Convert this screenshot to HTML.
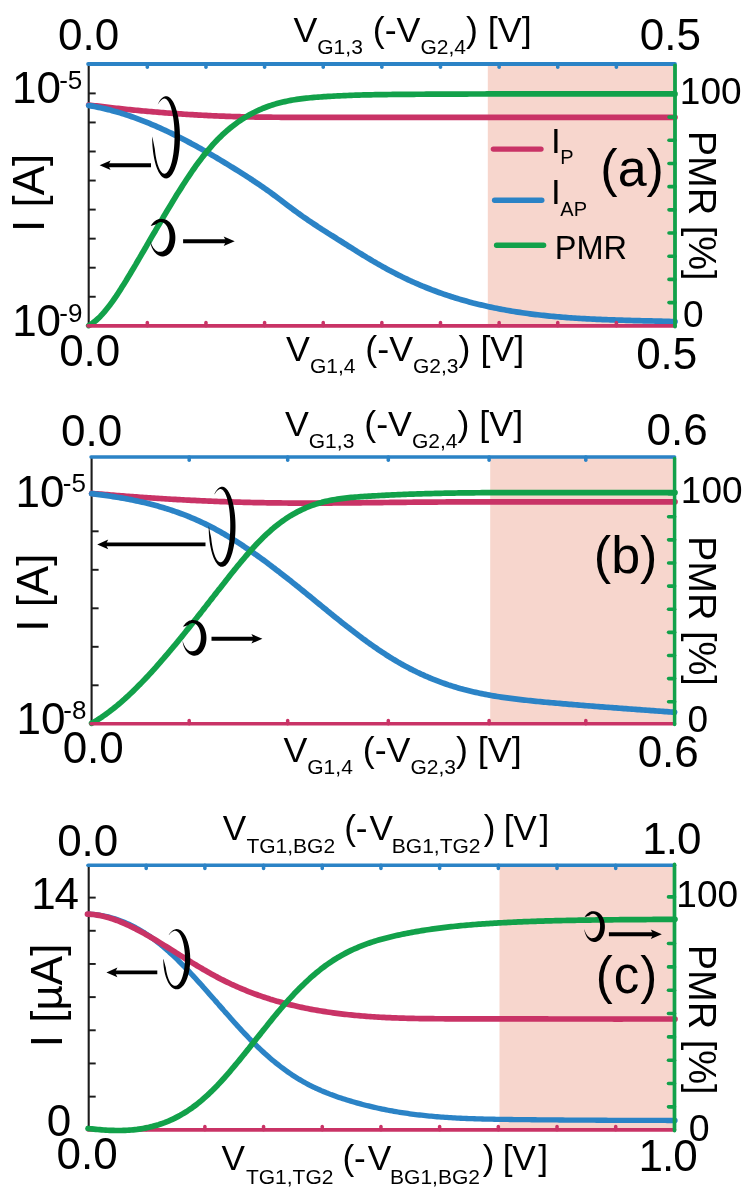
<!DOCTYPE html>
<html><head><meta charset="utf-8"><title>PMR figure</title>
<style>
html,body{margin:0;padding:0;background:#fff;}
svg{display:block;will-change:transform;}
text{font-family:"Liberation Sans",sans-serif;fill:#000;}
</style></head>
<body>
<svg width="747" height="1199" viewBox="0 0 747 1199">
<rect width="747" height="1199" fill="#fff"/>
<rect x="487.80" y="64.00" width="187.20" height="261.80" fill="#f7d6cd"/>
<line x1="88.70" y1="64.00" x2="88.70" y2="327.00" stroke="#1c1c1c" stroke-width="2.1" stroke-linecap="butt"/>
<line x1="88.70" y1="296.75" x2="95.70" y2="296.75" stroke="#1c1c1c" stroke-width="1.95" stroke-linecap="butt"/>
<line x1="88.70" y1="267.70" x2="95.70" y2="267.70" stroke="#1c1c1c" stroke-width="1.95" stroke-linecap="butt"/>
<line x1="88.70" y1="238.65" x2="95.70" y2="238.65" stroke="#1c1c1c" stroke-width="1.95" stroke-linecap="butt"/>
<line x1="88.70" y1="209.60" x2="95.70" y2="209.60" stroke="#1c1c1c" stroke-width="1.95" stroke-linecap="butt"/>
<line x1="88.70" y1="180.55" x2="95.70" y2="180.55" stroke="#1c1c1c" stroke-width="1.95" stroke-linecap="butt"/>
<line x1="88.70" y1="151.50" x2="95.70" y2="151.50" stroke="#1c1c1c" stroke-width="1.95" stroke-linecap="butt"/>
<line x1="88.70" y1="122.45" x2="95.70" y2="122.45" stroke="#1c1c1c" stroke-width="1.95" stroke-linecap="butt"/>
<line x1="88.70" y1="93.40" x2="95.70" y2="93.40" stroke="#1c1c1c" stroke-width="1.95" stroke-linecap="butt"/>
<path d="M88.7,104.97 L90.7,105.22 L92.6,105.46 L94.6,105.71 L96.5,105.95 L98.5,106.18 L100.5,106.42 L102.4,106.65 L104.4,106.88 L106.3,107.11 L108.3,107.34 L110.3,107.56 L112.2,107.78 L114.2,108.00 L116.2,108.21 L118.1,108.43 L120.1,108.64 L122.0,108.85 L124.0,109.05 L126.0,109.26 L127.9,109.46 L129.9,109.66 L131.8,109.86 L133.8,110.05 L135.8,110.24 L137.7,110.43 L139.7,110.62 L141.6,110.80 L143.6,110.99 L145.6,111.16 L147.5,111.34 L149.5,111.52 L151.4,111.69 L153.4,111.86 L155.4,112.02 L157.3,112.19 L159.3,112.35 L161.3,112.51 L163.2,112.67 L165.2,112.82 L167.1,112.97 L169.1,113.12 L171.1,113.27 L173.0,113.41 L175.0,113.55 L176.9,113.69 L178.9,113.83 L180.9,113.96 L182.8,114.09 L184.8,114.22 L186.7,114.35 L188.7,114.47 L190.7,114.59 L192.6,114.71 L194.6,114.82 L196.5,114.93 L198.5,115.04 L200.5,115.15 L202.4,115.26 L204.4,115.36 L206.4,115.46 L208.3,115.55 L210.3,115.65 L212.2,115.74 L214.2,115.83 L216.2,115.91 L218.1,115.99 L220.1,116.07 L222.0,116.15 L224.0,116.22 L226.0,116.30 L227.9,116.37 L229.9,116.43 L231.8,116.50 L233.8,116.56 L235.8,116.61 L237.7,116.67 L239.7,116.72 L241.6,116.77 L243.6,116.82 L245.6,116.86 L247.5,116.90 L249.5,116.94 L251.5,116.98 L253.4,117.01 L255.4,117.04 L257.3,117.07 L259.3,117.10 L261.3,117.12 L263.2,117.15 L265.2,117.17 L267.1,117.19 L269.1,117.21 L271.1,117.22 L273.0,117.24 L275.0,117.25 L276.9,117.26 L278.9,117.27 L280.9,117.28 L282.8,117.29 L284.8,117.30 L286.7,117.31 L288.7,117.31 L290.7,117.32 L292.6,117.32 L294.6,117.32 L296.6,117.33 L298.5,117.33 L300.5,117.33 L302.4,117.33 L304.4,117.34 L306.4,117.34 L308.3,117.34 L310.3,117.34 L312.2,117.34 L314.2,117.34 L316.2,117.34 L318.1,117.34 L320.1,117.34 L322.0,117.34 L324.0,117.34 L326.0,117.34 L327.9,117.34 L329.9,117.34 L331.8,117.34 L333.8,117.34 L335.8,117.34 L337.7,117.34 L339.7,117.34 L341.7,117.34 L343.6,117.34 L345.6,117.34 L347.5,117.34 L349.5,117.34 L351.5,117.34 L353.4,117.34 L355.4,117.34 L357.3,117.34 L359.3,117.33 L361.3,117.33 L363.2,117.33 L365.2,117.33 L367.1,117.33 L369.1,117.33 L371.1,117.33 L373.0,117.32 L375.0,117.32 L376.9,117.32 L378.9,117.32 L380.9,117.32 L382.8,117.32 L384.8,117.32 L386.8,117.31 L388.7,117.31 L390.7,117.31 L392.6,117.31 L394.6,117.31 L396.6,117.31 L398.5,117.31 L400.5,117.30 L402.4,117.30 L404.4,117.30 L406.4,117.30 L408.3,117.30 L410.3,117.30 L412.2,117.29 L414.2,117.29 L416.2,117.29 L418.1,117.29 L420.1,117.29 L422.0,117.29 L424.0,117.29 L426.0,117.29 L427.9,117.29 L429.9,117.28 L431.9,117.28 L433.8,117.28 L435.8,117.28 L437.7,117.28 L439.7,117.28 L441.7,117.28 L443.6,117.28 L445.6,117.28 L447.5,117.28 L449.5,117.28 L451.5,117.28 L453.4,117.28 L455.4,117.28 L457.3,117.28 L459.3,117.28 L461.3,117.28 L463.2,117.28 L465.2,117.28 L467.1,117.28 L469.1,117.28 L471.1,117.28 L473.0,117.28 L475.0,117.28 L477.0,117.28 L478.9,117.28 L480.9,117.28 L482.8,117.28 L484.8,117.28 L486.8,117.28 L488.7,117.28 L490.7,117.28 L492.6,117.28 L494.6,117.28 L496.6,117.28 L498.5,117.28 L500.5,117.28 L502.4,117.28 L504.4,117.28 L506.4,117.29 L508.3,117.29 L510.3,117.29 L512.2,117.29 L514.2,117.29 L516.2,117.29 L518.1,117.29 L520.1,117.29 L522.1,117.29 L524.0,117.29 L526.0,117.29 L527.9,117.29 L529.9,117.29 L531.9,117.29 L533.8,117.30 L535.8,117.30 L537.7,117.30 L539.7,117.30 L541.7,117.30 L543.6,117.30 L545.6,117.30 L547.5,117.30 L549.5,117.30 L551.5,117.30 L553.4,117.30 L555.4,117.30 L557.3,117.30 L559.3,117.30 L561.3,117.31 L563.2,117.31 L565.2,117.31 L567.2,117.31 L569.1,117.31 L571.1,117.31 L573.0,117.31 L575.0,117.31 L577.0,117.31 L578.9,117.31 L580.9,117.31 L582.8,117.31 L584.8,117.31 L586.8,117.31 L588.7,117.31 L590.7,117.31 L592.6,117.31 L594.6,117.31 L596.6,117.31 L598.5,117.31 L600.5,117.32 L602.4,117.32 L604.4,117.32 L606.4,117.32 L608.3,117.32 L610.3,117.32 L612.3,117.32 L614.2,117.32 L616.2,117.32 L618.1,117.32 L620.1,117.31 L622.1,117.31 L624.0,117.31 L626.0,117.31 L627.9,117.31 L629.9,117.31 L631.9,117.31 L633.8,117.31 L635.8,117.31 L637.7,117.31 L639.7,117.31 L641.7,117.31 L643.6,117.31 L645.6,117.31 L647.5,117.31 L649.5,117.31 L651.5,117.30 L653.4,117.30 L655.4,117.30 L657.4,117.30 L659.3,117.30 L661.3,117.30 L663.2,117.30 L665.2,117.29 L667.2,117.29 L669.1,117.29 L671.1,117.29 L673.0,117.29 L675.0,117.29" fill="none" stroke="#c93366" stroke-width="5.7" stroke-linecap="round" stroke-linejoin="round"/>
<path d="M88.7,105.51 L90.7,105.84 L92.6,106.18 L94.6,106.55 L96.5,106.94 L98.5,107.34 L100.5,107.76 L102.4,108.19 L104.4,108.65 L106.3,109.12 L108.3,109.61 L110.3,110.11 L112.2,110.64 L114.2,111.17 L116.2,111.73 L118.1,112.30 L120.1,112.89 L122.0,113.49 L124.0,114.11 L126.0,114.74 L127.9,115.39 L129.9,116.05 L131.8,116.73 L133.8,117.42 L135.8,118.13 L137.7,118.85 L139.7,119.59 L141.6,120.34 L143.6,121.10 L145.6,121.88 L147.5,122.67 L149.5,123.48 L151.4,124.30 L153.4,125.13 L155.4,125.97 L157.3,126.83 L159.3,127.69 L161.3,128.58 L163.2,129.47 L165.2,130.37 L167.1,131.29 L169.1,132.22 L171.1,133.16 L173.0,134.11 L175.0,135.07 L176.9,136.05 L178.9,137.03 L180.9,138.03 L182.8,139.03 L184.8,140.05 L186.7,141.07 L188.7,142.11 L190.7,143.15 L192.6,144.21 L194.6,145.27 L196.5,146.34 L198.5,147.43 L200.5,148.52 L202.4,149.62 L204.4,150.73 L206.4,151.84 L208.3,152.97 L210.3,154.10 L212.2,155.24 L214.2,156.39 L216.2,157.55 L218.1,158.71 L220.1,159.88 L222.0,161.06 L224.0,162.24 L226.0,163.43 L227.9,164.63 L229.9,165.84 L231.8,167.05 L233.8,168.26 L235.8,169.49 L237.7,170.71 L239.7,171.95 L241.6,173.18 L243.6,174.43 L245.6,175.68 L247.5,176.94 L249.5,178.20 L251.5,179.48 L253.4,180.77 L255.4,182.06 L257.3,183.37 L259.3,184.69 L261.3,186.03 L263.2,187.38 L265.2,188.75 L267.1,190.13 L269.1,191.53 L271.1,192.94 L273.0,194.38 L275.0,195.83 L276.9,197.29 L278.9,198.76 L280.9,200.24 L282.8,201.72 L284.8,203.21 L286.7,204.69 L288.7,206.18 L290.7,207.65 L292.6,209.12 L294.6,210.58 L296.6,212.02 L298.5,213.45 L300.5,214.86 L302.4,216.26 L304.4,217.63 L306.4,218.98 L308.3,220.32 L310.3,221.64 L312.2,222.94 L314.2,224.24 L316.2,225.52 L318.1,226.79 L320.1,228.06 L322.0,229.31 L324.0,230.56 L326.0,231.81 L327.9,233.06 L329.9,234.30 L331.8,235.54 L333.8,236.78 L335.8,238.03 L337.7,239.27 L339.7,240.52 L341.7,241.76 L343.6,243.00 L345.6,244.24 L347.5,245.48 L349.5,246.71 L351.5,247.94 L353.4,249.17 L355.4,250.39 L357.3,251.61 L359.3,252.82 L361.3,254.02 L363.2,255.22 L365.2,256.41 L367.1,257.60 L369.1,258.77 L371.1,259.94 L373.0,261.10 L375.0,262.25 L376.9,263.38 L378.9,264.51 L380.9,265.63 L382.8,266.73 L384.8,267.82 L386.8,268.90 L388.7,269.97 L390.7,271.02 L392.6,272.05 L394.6,273.08 L396.6,274.08 L398.5,275.08 L400.5,276.05 L402.4,277.02 L404.4,277.97 L406.4,278.90 L408.3,279.82 L410.3,280.73 L412.2,281.62 L414.2,282.50 L416.2,283.36 L418.1,284.21 L420.1,285.05 L422.0,285.87 L424.0,286.68 L426.0,287.48 L427.9,288.26 L429.9,289.03 L431.9,289.79 L433.8,290.53 L435.8,291.27 L437.7,291.99 L439.7,292.69 L441.7,293.39 L443.6,294.07 L445.6,294.74 L447.5,295.40 L449.5,296.05 L451.5,296.68 L453.4,297.31 L455.4,297.92 L457.3,298.52 L459.3,299.11 L461.3,299.69 L463.2,300.25 L465.2,300.81 L467.1,301.36 L469.1,301.89 L471.1,302.41 L473.0,302.93 L475.0,303.43 L477.0,303.93 L478.9,304.41 L480.9,304.88 L482.8,305.35 L484.8,305.80 L486.8,306.24 L488.7,306.68 L490.7,307.10 L492.6,307.52 L494.6,307.92 L496.6,308.32 L498.5,308.71 L500.5,309.09 L502.4,309.46 L504.4,309.82 L506.4,310.18 L508.3,310.52 L510.3,310.86 L512.2,311.19 L514.2,311.51 L516.2,311.82 L518.1,312.13 L520.1,312.43 L522.1,312.72 L524.0,313.00 L526.0,313.28 L527.9,313.54 L529.9,313.81 L531.9,314.06 L533.8,314.31 L535.8,314.55 L537.7,314.78 L539.7,315.01 L541.7,315.23 L543.6,315.44 L545.6,315.65 L547.5,315.86 L549.5,316.05 L551.5,316.24 L553.4,316.43 L555.4,316.61 L557.3,316.78 L559.3,316.95 L561.3,317.11 L563.2,317.27 L565.2,317.43 L567.2,317.57 L569.1,317.72 L571.1,317.86 L573.0,317.99 L575.0,318.12 L577.0,318.25 L578.9,318.37 L580.9,318.49 L582.8,318.60 L584.8,318.71 L586.8,318.81 L588.7,318.92 L590.7,319.02 L592.6,319.11 L594.6,319.20 L596.6,319.29 L598.5,319.38 L600.5,319.46 L602.4,319.54 L604.4,319.62 L606.4,319.69 L608.3,319.77 L610.3,319.84 L612.3,319.90 L614.2,319.97 L616.2,320.03 L618.1,320.10 L620.1,320.16 L622.1,320.21 L624.0,320.27 L626.0,320.33 L627.9,320.38 L629.9,320.43 L631.9,320.49 L633.8,320.54 L635.8,320.59 L637.7,320.64 L639.7,320.69 L641.7,320.73 L643.6,320.78 L645.6,320.83 L647.5,320.88 L649.5,320.93 L651.5,320.97 L653.4,321.02 L655.4,321.07 L657.4,321.12 L659.3,321.17 L661.3,321.22 L663.2,321.27 L665.2,321.32 L667.2,321.37 L669.1,321.43 L671.1,321.48 L673.0,321.54 L675.0,321.59" fill="none" stroke="#2b83c6" stroke-width="5.7" stroke-linecap="round" stroke-linejoin="round"/>
<path d="M88.7,325.63 L90.7,324.48 L92.6,323.15 L94.6,321.65 L96.5,319.99 L98.5,318.17 L100.5,316.21 L102.4,314.11 L104.4,311.87 L106.3,309.52 L108.3,307.04 L110.3,304.46 L112.2,301.77 L114.2,298.99 L116.2,296.12 L118.1,293.18 L120.1,290.16 L122.0,287.08 L124.0,283.94 L126.0,280.75 L127.9,277.53 L129.9,274.26 L131.8,270.98 L133.8,267.67 L135.8,264.35 L137.7,261.01 L139.7,257.66 L141.6,254.30 L143.6,250.94 L145.6,247.57 L147.5,244.19 L149.5,240.81 L151.4,237.44 L153.4,234.06 L155.4,230.70 L157.3,227.34 L159.3,223.99 L161.3,220.65 L163.2,217.32 L165.2,214.01 L167.1,210.72 L169.1,207.44 L171.1,204.19 L173.0,200.97 L175.0,197.76 L176.9,194.59 L178.9,191.45 L180.9,188.34 L182.8,185.27 L184.8,182.23 L186.7,179.24 L188.7,176.29 L190.7,173.38 L192.6,170.53 L194.6,167.73 L196.5,164.98 L198.5,162.29 L200.5,159.66 L202.4,157.10 L204.4,154.60 L206.4,152.17 L208.3,149.82 L210.3,147.53 L212.2,145.31 L214.2,143.16 L216.2,141.08 L218.1,139.06 L220.1,137.11 L222.0,135.22 L224.0,133.40 L226.0,131.63 L227.9,129.93 L229.9,128.28 L231.8,126.69 L233.8,125.16 L235.8,123.68 L237.7,122.26 L239.7,120.90 L241.6,119.58 L243.6,118.32 L245.6,117.10 L247.5,115.94 L249.5,114.82 L251.5,113.75 L253.4,112.73 L255.4,111.74 L257.3,110.81 L259.3,109.91 L261.3,109.06 L263.2,108.24 L265.2,107.47 L267.1,106.73 L269.1,106.03 L271.1,105.37 L273.0,104.73 L275.0,104.14 L276.9,103.57 L278.9,103.04 L280.9,102.53 L282.8,102.06 L284.8,101.61 L286.7,101.18 L288.7,100.79 L290.7,100.42 L292.6,100.07 L294.6,99.74 L296.6,99.43 L298.5,99.15 L300.5,98.88 L302.4,98.63 L304.4,98.39 L306.4,98.17 L308.3,97.97 L310.3,97.78 L312.2,97.60 L314.2,97.43 L316.2,97.27 L318.1,97.12 L320.1,96.98 L322.0,96.84 L324.0,96.71 L326.0,96.58 L327.9,96.46 L329.9,96.34 L331.8,96.23 L333.8,96.12 L335.8,96.02 L337.7,95.92 L339.7,95.82 L341.7,95.73 L343.6,95.64 L345.6,95.56 L347.5,95.48 L349.5,95.41 L351.5,95.33 L353.4,95.26 L355.4,95.20 L357.3,95.14 L359.3,95.08 L361.3,95.02 L363.2,94.97 L365.2,94.92 L367.1,94.87 L369.1,94.83 L371.1,94.78 L373.0,94.75 L375.0,94.71 L376.9,94.67 L378.9,94.64 L380.9,94.61 L382.8,94.58 L384.8,94.55 L386.8,94.53 L388.7,94.50 L390.7,94.48 L392.6,94.46 L394.6,94.44 L396.6,94.42 L398.5,94.40 L400.5,94.39 L402.4,94.37 L404.4,94.35 L406.4,94.34 L408.3,94.33 L410.3,94.31 L412.2,94.30 L414.2,94.29 L416.2,94.27 L418.1,94.26 L420.1,94.25 L422.0,94.24 L424.0,94.23 L426.0,94.22 L427.9,94.20 L429.9,94.19 L431.9,94.18 L433.8,94.17 L435.8,94.16 L437.7,94.15 L439.7,94.14 L441.7,94.13 L443.6,94.12 L445.6,94.12 L447.5,94.11 L449.5,94.10 L451.5,94.09 L453.4,94.08 L455.4,94.07 L457.3,94.07 L459.3,94.06 L461.3,94.05 L463.2,94.04 L465.2,94.04 L467.1,94.03 L469.1,94.02 L471.1,94.02 L473.0,94.01 L475.0,94.01 L477.0,94.00 L478.9,93.99 L480.9,93.99 L482.8,93.98 L484.8,93.98 L486.8,93.97 L488.7,93.97 L490.7,93.97 L492.6,93.96 L494.6,93.96 L496.6,93.95 L498.5,93.95 L500.5,93.94 L502.4,93.94 L504.4,93.94 L506.4,93.93 L508.3,93.93 L510.3,93.93 L512.2,93.93 L514.2,93.92 L516.2,93.92 L518.1,93.92 L520.1,93.92 L522.1,93.91 L524.0,93.91 L526.0,93.91 L527.9,93.91 L529.9,93.90 L531.9,93.90 L533.8,93.90 L535.8,93.90 L537.7,93.90 L539.7,93.90 L541.7,93.90 L543.6,93.90 L545.6,93.89 L547.5,93.89 L549.5,93.89 L551.5,93.89 L553.4,93.89 L555.4,93.89 L557.3,93.89 L559.3,93.89 L561.3,93.89 L563.2,93.89 L565.2,93.89 L567.2,93.89 L569.1,93.89 L571.1,93.89 L573.0,93.89 L575.0,93.89 L577.0,93.89 L578.9,93.89 L580.9,93.89 L582.8,93.89 L584.8,93.89 L586.8,93.89 L588.7,93.89 L590.7,93.89 L592.6,93.89 L594.6,93.89 L596.6,93.89 L598.5,93.89 L600.5,93.89 L602.4,93.89 L604.4,93.89 L606.4,93.89 L608.3,93.90 L610.3,93.90 L612.3,93.90 L614.2,93.90 L616.2,93.90 L618.1,93.90 L620.1,93.90 L622.1,93.90 L624.0,93.90 L626.0,93.90 L627.9,93.90 L629.9,93.90 L631.9,93.90 L633.8,93.90 L635.8,93.90 L637.7,93.90 L639.7,93.90 L641.7,93.90 L643.6,93.90 L645.6,93.90 L647.5,93.90 L649.5,93.90 L651.5,93.90 L653.4,93.90 L655.4,93.90 L657.4,93.90 L659.3,93.90 L661.3,93.90 L663.2,93.90 L665.2,93.90 L667.2,93.90 L669.1,93.90 L671.1,93.90 L673.0,93.90 L675.0,93.90" fill="none" stroke="#12a14a" stroke-width="5.7" stroke-linecap="round" stroke-linejoin="round"/>
<line x1="88.10" y1="325.80" x2="675.00" y2="325.80" stroke="#c93366" stroke-width="3.8" stroke-linecap="round"/>
<line x1="147.33" y1="325.80" x2="147.33" y2="322.50" stroke="#c93366" stroke-width="3.5" stroke-linecap="round"/>
<line x1="205.96" y1="325.80" x2="205.96" y2="322.50" stroke="#c93366" stroke-width="3.5" stroke-linecap="round"/>
<line x1="264.59" y1="325.80" x2="264.59" y2="322.50" stroke="#c93366" stroke-width="3.5" stroke-linecap="round"/>
<line x1="323.22" y1="325.80" x2="323.22" y2="322.50" stroke="#c93366" stroke-width="3.5" stroke-linecap="round"/>
<line x1="381.85" y1="325.80" x2="381.85" y2="322.50" stroke="#c93366" stroke-width="3.5" stroke-linecap="round"/>
<line x1="440.48" y1="325.80" x2="440.48" y2="322.50" stroke="#c93366" stroke-width="3.5" stroke-linecap="round"/>
<line x1="499.11" y1="325.80" x2="499.11" y2="322.50" stroke="#c93366" stroke-width="3.5" stroke-linecap="round"/>
<line x1="557.74" y1="325.80" x2="557.74" y2="322.50" stroke="#c93366" stroke-width="3.5" stroke-linecap="round"/>
<line x1="616.37" y1="325.80" x2="616.37" y2="322.50" stroke="#c93366" stroke-width="3.5" stroke-linecap="round"/>
<line x1="88.10" y1="64.00" x2="675.00" y2="64.00" stroke="#2b83c6" stroke-width="3.8" stroke-linecap="round"/>
<line x1="147.33" y1="64.00" x2="147.33" y2="67.30" stroke="#2b83c6" stroke-width="3.5" stroke-linecap="round"/>
<line x1="205.96" y1="64.00" x2="205.96" y2="67.30" stroke="#2b83c6" stroke-width="3.5" stroke-linecap="round"/>
<line x1="264.59" y1="64.00" x2="264.59" y2="67.30" stroke="#2b83c6" stroke-width="3.5" stroke-linecap="round"/>
<line x1="323.22" y1="64.00" x2="323.22" y2="67.30" stroke="#2b83c6" stroke-width="3.5" stroke-linecap="round"/>
<line x1="381.85" y1="64.00" x2="381.85" y2="67.30" stroke="#2b83c6" stroke-width="3.5" stroke-linecap="round"/>
<line x1="440.48" y1="64.00" x2="440.48" y2="67.30" stroke="#2b83c6" stroke-width="3.5" stroke-linecap="round"/>
<line x1="499.11" y1="64.00" x2="499.11" y2="67.30" stroke="#2b83c6" stroke-width="3.5" stroke-linecap="round"/>
<line x1="557.74" y1="64.00" x2="557.74" y2="67.30" stroke="#2b83c6" stroke-width="3.5" stroke-linecap="round"/>
<line x1="616.37" y1="64.00" x2="616.37" y2="67.30" stroke="#2b83c6" stroke-width="3.5" stroke-linecap="round"/>
<line x1="675.00" y1="65.50" x2="675.00" y2="326.60" stroke="#12a14a" stroke-width="3.8" stroke-linecap="round"/>
<line x1="675.00" y1="302.61" x2="669.00" y2="302.61" stroke="#12a14a" stroke-width="3.6" stroke-linecap="round"/>
<line x1="675.00" y1="279.42" x2="669.00" y2="279.42" stroke="#12a14a" stroke-width="3.6" stroke-linecap="round"/>
<line x1="675.00" y1="256.23" x2="669.00" y2="256.23" stroke="#12a14a" stroke-width="3.6" stroke-linecap="round"/>
<line x1="675.00" y1="233.04" x2="669.00" y2="233.04" stroke="#12a14a" stroke-width="3.6" stroke-linecap="round"/>
<line x1="675.00" y1="209.85" x2="669.00" y2="209.85" stroke="#12a14a" stroke-width="3.6" stroke-linecap="round"/>
<line x1="675.00" y1="186.66" x2="669.00" y2="186.66" stroke="#12a14a" stroke-width="3.6" stroke-linecap="round"/>
<line x1="675.00" y1="163.47" x2="669.00" y2="163.47" stroke="#12a14a" stroke-width="3.6" stroke-linecap="round"/>
<line x1="675.00" y1="140.28" x2="669.00" y2="140.28" stroke="#12a14a" stroke-width="3.6" stroke-linecap="round"/>
<line x1="675.00" y1="117.09" x2="669.00" y2="117.09" stroke="#12a14a" stroke-width="3.6" stroke-linecap="round"/>
<line x1="675.00" y1="93.90" x2="669.00" y2="93.90" stroke="#12a14a" stroke-width="3.6" stroke-linecap="round"/>
<rect x="490.20" y="456.90" width="184.40" height="266.90" fill="#f7d6cd"/>
<line x1="91.60" y1="456.90" x2="91.60" y2="725.00" stroke="#1c1c1c" stroke-width="2.1" stroke-linecap="butt"/>
<line x1="91.60" y1="685.30" x2="98.60" y2="685.30" stroke="#1c1c1c" stroke-width="1.95" stroke-linecap="butt"/>
<line x1="91.60" y1="646.80" x2="98.60" y2="646.80" stroke="#1c1c1c" stroke-width="1.95" stroke-linecap="butt"/>
<line x1="91.60" y1="608.30" x2="98.60" y2="608.30" stroke="#1c1c1c" stroke-width="1.95" stroke-linecap="butt"/>
<line x1="91.60" y1="569.80" x2="98.60" y2="569.80" stroke="#1c1c1c" stroke-width="1.95" stroke-linecap="butt"/>
<line x1="91.60" y1="531.30" x2="98.60" y2="531.30" stroke="#1c1c1c" stroke-width="1.95" stroke-linecap="butt"/>
<line x1="91.60" y1="492.80" x2="98.60" y2="492.80" stroke="#1c1c1c" stroke-width="1.95" stroke-linecap="butt"/>
<path d="M91.6,493.38 L93.6,493.55 L95.5,493.72 L97.5,493.88 L99.4,494.05 L101.4,494.21 L103.3,494.38 L105.3,494.54 L107.2,494.70 L109.2,494.86 L111.1,495.01 L113.1,495.17 L115.0,495.32 L117.0,495.48 L118.9,495.63 L120.9,495.78 L122.8,495.93 L124.8,496.08 L126.7,496.23 L128.7,496.37 L130.6,496.52 L132.6,496.66 L134.5,496.80 L136.5,496.94 L138.4,497.08 L140.4,497.22 L142.3,497.36 L144.3,497.49 L146.2,497.62 L148.2,497.76 L150.1,497.89 L152.1,498.02 L154.0,498.14 L156.0,498.27 L157.9,498.39 L159.9,498.52 L161.8,498.64 L163.8,498.76 L165.7,498.88 L167.7,499.00 L169.6,499.11 L171.6,499.23 L173.5,499.34 L175.5,499.45 L177.5,499.56 L179.4,499.67 L181.4,499.77 L183.3,499.88 L185.3,499.98 L187.2,500.08 L189.2,500.18 L191.1,500.28 L193.1,500.38 L195.0,500.47 L197.0,500.57 L198.9,500.66 L200.9,500.75 L202.8,500.84 L204.8,500.92 L206.7,501.01 L208.7,501.09 L210.6,501.18 L212.6,501.26 L214.5,501.33 L216.5,501.41 L218.4,501.49 L220.4,501.56 L222.3,501.63 L224.3,501.70 L226.2,501.77 L228.2,501.84 L230.1,501.90 L232.1,501.96 L234.0,502.02 L236.0,502.08 L237.9,502.14 L239.9,502.20 L241.8,502.25 L243.8,502.30 L245.7,502.35 L247.7,502.40 L249.6,502.45 L251.6,502.49 L253.5,502.53 L255.5,502.58 L257.4,502.61 L259.4,502.65 L261.4,502.69 L263.3,502.72 L265.3,502.76 L267.2,502.79 L269.2,502.82 L271.1,502.84 L273.1,502.87 L275.0,502.89 L277.0,502.92 L278.9,502.94 L280.9,502.96 L282.8,502.98 L284.8,503.00 L286.7,503.01 L288.7,503.03 L290.6,503.04 L292.6,503.05 L294.5,503.06 L296.5,503.07 L298.4,503.08 L300.4,503.08 L302.3,503.09 L304.3,503.09 L306.2,503.10 L308.2,503.10 L310.1,503.10 L312.1,503.10 L314.0,503.10 L316.0,503.09 L317.9,503.09 L319.9,503.08 L321.8,503.08 L323.8,503.07 L325.7,503.06 L327.7,503.05 L329.6,503.04 L331.6,503.03 L333.5,503.02 L335.5,503.01 L337.4,502.99 L339.4,502.98 L341.3,502.96 L343.3,502.95 L345.3,502.93 L347.2,502.91 L349.2,502.90 L351.1,502.88 L353.1,502.86 L355.0,502.84 L357.0,502.82 L358.9,502.80 L360.9,502.78 L362.8,502.76 L364.8,502.74 L366.7,502.72 L368.7,502.70 L370.6,502.68 L372.6,502.66 L374.5,502.63 L376.5,502.61 L378.4,502.59 L380.4,502.57 L382.3,502.55 L384.3,502.52 L386.2,502.50 L388.2,502.48 L390.1,502.46 L392.1,502.44 L394.0,502.41 L396.0,502.39 L397.9,502.37 L399.9,502.35 L401.8,502.33 L403.8,502.31 L405.7,502.29 L407.7,502.27 L409.6,502.25 L411.6,502.23 L413.5,502.21 L415.5,502.20 L417.4,502.18 L419.4,502.16 L421.3,502.15 L423.3,502.13 L425.3,502.11 L427.2,502.10 L429.2,502.08 L431.1,502.07 L433.1,502.06 L435.0,502.04 L437.0,502.03 L438.9,502.02 L440.9,502.01 L442.8,502.00 L444.8,501.98 L446.7,501.97 L448.7,501.96 L450.6,501.95 L452.6,501.94 L454.5,501.94 L456.5,501.93 L458.4,501.92 L460.4,501.91 L462.3,501.90 L464.3,501.90 L466.2,501.89 L468.2,501.88 L470.1,501.88 L472.1,501.87 L474.0,501.87 L476.0,501.86 L477.9,501.86 L479.9,501.85 L481.8,501.85 L483.8,501.85 L485.7,501.84 L487.7,501.84 L489.6,501.84 L491.6,501.84 L493.5,501.83 L495.5,501.83 L497.4,501.83 L499.4,501.83 L501.3,501.83 L503.3,501.83 L505.2,501.83 L507.2,501.83 L509.2,501.83 L511.1,501.83 L513.1,501.83 L515.0,501.83 L517.0,501.83 L518.9,501.83 L520.9,501.83 L522.8,501.83 L524.8,501.84 L526.7,501.84 L528.7,501.84 L530.6,501.84 L532.6,501.84 L534.5,501.85 L536.5,501.85 L538.4,501.85 L540.4,501.85 L542.3,501.86 L544.3,501.86 L546.2,501.86 L548.2,501.86 L550.1,501.87 L552.1,501.87 L554.0,501.87 L556.0,501.88 L557.9,501.88 L559.9,501.88 L561.8,501.89 L563.8,501.89 L565.7,501.89 L567.7,501.89 L569.6,501.90 L571.6,501.90 L573.5,501.90 L575.5,501.91 L577.4,501.91 L579.4,501.91 L581.3,501.92 L583.3,501.92 L585.2,501.92 L587.2,501.93 L589.1,501.93 L591.1,501.93 L593.1,501.93 L595.0,501.94 L597.0,501.94 L598.9,501.94 L600.9,501.94 L602.8,501.94 L604.8,501.95 L606.7,501.95 L608.7,501.95 L610.6,501.95 L612.6,501.95 L614.5,501.95 L616.5,501.95 L618.4,501.95 L620.4,501.95 L622.3,501.96 L624.3,501.96 L626.2,501.95 L628.2,501.95 L630.1,501.95 L632.1,501.95 L634.0,501.95 L636.0,501.95 L637.9,501.95 L639.9,501.95 L641.8,501.94 L643.8,501.94 L645.7,501.94 L647.7,501.94 L649.6,501.93 L651.6,501.93 L653.5,501.92 L655.5,501.92 L657.4,501.92 L659.4,501.91 L661.3,501.90 L663.3,501.90 L665.2,501.89 L667.2,501.89 L669.1,501.88 L671.1,501.87 L673.0,501.86 L675.0,501.86" fill="none" stroke="#c93366" stroke-width="5.7" stroke-linecap="round" stroke-linejoin="round"/>
<path d="M91.6,493.63 L93.5,493.87 L95.5,494.11 L97.4,494.36 L99.4,494.61 L101.3,494.87 L103.3,495.13 L105.2,495.40 L107.2,495.68 L109.1,495.97 L111.1,496.26 L113.0,496.56 L115.0,496.87 L116.9,497.19 L118.9,497.51 L120.8,497.84 L122.8,498.18 L124.7,498.53 L126.7,498.89 L128.6,499.26 L130.6,499.64 L132.5,500.03 L134.5,500.43 L136.4,500.84 L138.4,501.26 L140.3,501.69 L142.3,502.13 L144.2,502.58 L146.2,503.05 L148.1,503.53 L150.1,504.02 L152.0,504.52 L154.0,505.03 L155.9,505.56 L157.9,506.10 L159.8,506.66 L161.8,507.22 L163.7,507.81 L165.7,508.40 L167.6,509.01 L169.6,509.64 L171.5,510.28 L173.5,510.93 L175.4,511.60 L177.4,512.29 L179.3,512.99 L181.3,513.71 L183.2,514.44 L185.2,515.19 L187.1,515.96 L189.1,516.74 L191.0,517.55 L193.0,518.37 L194.9,519.20 L196.9,520.06 L198.8,520.93 L200.8,521.83 L202.7,522.74 L204.7,523.67 L206.6,524.62 L208.6,525.59 L210.5,526.58 L212.5,527.59 L214.4,528.61 L216.4,529.66 L218.3,530.73 L220.3,531.82 L222.2,532.93 L224.2,534.05 L226.1,535.20 L228.1,536.36 L230.0,537.54 L232.0,538.73 L233.9,539.94 L235.9,541.17 L237.8,542.42 L239.8,543.68 L241.7,544.95 L243.7,546.24 L245.6,547.55 L247.6,548.87 L249.5,550.20 L251.5,551.55 L253.4,552.91 L255.4,554.28 L257.3,555.67 L259.3,557.07 L261.2,558.48 L263.2,559.90 L265.1,561.33 L267.1,562.77 L269.0,564.23 L271.0,565.69 L272.9,567.17 L274.9,568.65 L276.8,570.14 L278.8,571.64 L280.7,573.15 L282.7,574.67 L284.6,576.19 L286.6,577.73 L288.5,579.27 L290.5,580.81 L292.4,582.36 L294.4,583.92 L296.3,585.49 L298.3,587.06 L300.2,588.63 L302.2,590.21 L304.1,591.79 L306.1,593.38 L308.0,594.97 L310.0,596.56 L311.9,598.15 L313.9,599.75 L315.8,601.34 L317.8,602.94 L319.7,604.53 L321.7,606.13 L323.6,607.72 L325.6,609.31 L327.5,610.90 L329.5,612.49 L331.4,614.07 L333.4,615.65 L335.3,617.22 L337.3,618.79 L339.2,620.35 L341.2,621.91 L343.1,623.46 L345.1,625.00 L347.0,626.53 L349.0,628.06 L350.9,629.57 L352.9,631.08 L354.8,632.58 L356.8,634.07 L358.7,635.54 L360.7,637.01 L362.6,638.46 L364.6,639.90 L366.5,641.32 L368.5,642.73 L370.4,644.13 L372.4,645.51 L374.3,646.88 L376.3,648.23 L378.2,649.57 L380.2,650.88 L382.1,652.18 L384.1,653.47 L386.0,654.73 L388.0,655.97 L389.9,657.20 L391.9,658.40 L393.8,659.59 L395.8,660.75 L397.7,661.89 L399.7,663.02 L401.6,664.12 L403.6,665.20 L405.5,666.26 L407.5,667.30 L409.4,668.33 L411.4,669.33 L413.3,670.32 L415.3,671.28 L417.2,672.23 L419.2,673.15 L421.1,674.06 L423.1,674.95 L425.0,675.82 L427.0,676.67 L428.9,677.51 L430.9,678.32 L432.8,679.12 L434.8,679.90 L436.7,680.66 L438.7,681.41 L440.6,682.13 L442.6,682.84 L444.5,683.53 L446.5,684.21 L448.4,684.87 L450.4,685.51 L452.3,686.13 L454.3,686.74 L456.2,687.33 L458.2,687.90 L460.1,688.46 L462.1,689.00 L464.0,689.53 L466.0,690.04 L467.9,690.54 L469.9,691.02 L471.8,691.49 L473.8,691.95 L475.7,692.39 L477.7,692.82 L479.6,693.23 L481.6,693.64 L483.5,694.03 L485.5,694.41 L487.4,694.78 L489.4,695.14 L491.3,695.49 L493.3,695.82 L495.2,696.15 L497.2,696.47 L499.1,696.77 L501.1,697.07 L503.0,697.36 L505.0,697.64 L506.9,697.92 L508.9,698.18 L510.8,698.44 L512.8,698.69 L514.7,698.94 L516.7,699.18 L518.6,699.41 L520.6,699.64 L522.5,699.86 L524.5,700.08 L526.4,700.29 L528.4,700.50 L530.3,700.70 L532.3,700.90 L534.2,701.10 L536.2,701.29 L538.1,701.48 L540.1,701.67 L542.0,701.85 L544.0,702.04 L545.9,702.22 L547.9,702.40 L549.8,702.58 L551.8,702.76 L553.7,702.94 L555.7,703.11 L557.6,703.28 L559.6,703.46 L561.5,703.63 L563.5,703.79 L565.4,703.96 L567.4,704.13 L569.3,704.29 L571.3,704.46 L573.2,704.62 L575.2,704.78 L577.1,704.94 L579.1,705.10 L581.0,705.26 L583.0,705.41 L584.9,705.57 L586.9,705.72 L588.8,705.88 L590.8,706.03 L592.7,706.18 L594.7,706.34 L596.6,706.49 L598.6,706.64 L600.5,706.79 L602.5,706.93 L604.4,707.08 L606.4,707.23 L608.3,707.38 L610.3,707.52 L612.2,707.67 L614.2,707.81 L616.1,707.96 L618.1,708.10 L620.0,708.25 L622.0,708.39 L623.9,708.54 L625.9,708.68 L627.8,708.82 L629.8,708.97 L631.7,709.11 L633.7,709.25 L635.6,709.39 L637.6,709.54 L639.5,709.68 L641.5,709.82 L643.4,709.97 L645.4,710.11 L647.3,710.25 L649.3,710.40 L651.2,710.54 L653.2,710.69 L655.1,710.83 L657.1,710.98 L659.0,711.12 L661.0,711.27 L662.9,711.42 L664.9,711.56 L666.8,711.71 L668.8,711.86 L670.7,712.01 L672.7,712.16 L674.6,712.31" fill="none" stroke="#2b83c6" stroke-width="5.7" stroke-linecap="round" stroke-linejoin="round"/>
<path d="M91.6,723.36 L93.6,722.24 L95.5,721.09 L97.5,719.89 L99.4,718.64 L101.4,717.36 L103.3,716.03 L105.3,714.66 L107.2,713.25 L109.2,711.81 L111.1,710.32 L113.1,708.80 L115.0,707.23 L117.0,705.63 L118.9,704.00 L120.9,702.33 L122.8,700.63 L124.8,698.89 L126.7,697.12 L128.7,695.32 L130.6,693.48 L132.6,691.62 L134.5,689.72 L136.5,687.80 L138.4,685.84 L140.4,683.86 L142.3,681.85 L144.3,679.82 L146.2,677.76 L148.2,675.68 L150.1,673.57 L152.1,671.43 L154.0,669.28 L156.0,667.10 L157.9,664.90 L159.9,662.68 L161.8,660.44 L163.8,658.19 L165.7,655.91 L167.7,653.61 L169.6,651.30 L171.6,648.98 L173.5,646.63 L175.5,644.28 L177.5,641.90 L179.4,639.52 L181.4,637.12 L183.3,634.71 L185.3,632.29 L187.2,629.86 L189.2,627.42 L191.1,624.97 L193.1,622.51 L195.0,620.05 L197.0,617.58 L198.9,615.10 L200.9,612.62 L202.8,610.13 L204.8,607.64 L206.7,605.14 L208.7,602.65 L210.6,600.15 L212.6,597.65 L214.5,595.15 L216.5,592.65 L218.4,590.15 L220.4,587.66 L222.3,585.17 L224.3,582.68 L226.2,580.20 L228.2,577.73 L230.1,575.27 L232.1,572.82 L234.0,570.39 L236.0,567.98 L237.9,565.59 L239.9,563.22 L241.8,560.87 L243.8,558.55 L245.7,556.26 L247.7,554.00 L249.6,551.77 L251.6,549.58 L253.5,547.43 L255.5,545.31 L257.4,543.24 L259.4,541.21 L261.4,539.22 L263.3,537.29 L265.3,535.40 L267.2,533.57 L269.2,531.79 L271.1,530.06 L273.1,528.39 L275.0,526.78 L277.0,525.22 L278.9,523.71 L280.9,522.25 L282.8,520.84 L284.8,519.49 L286.7,518.18 L288.7,516.92 L290.6,515.71 L292.6,514.55 L294.5,513.44 L296.5,512.37 L298.4,511.35 L300.4,510.37 L302.3,509.44 L304.3,508.55 L306.2,507.70 L308.2,506.90 L310.1,506.14 L312.1,505.42 L314.0,504.73 L316.0,504.09 L317.9,503.48 L319.9,502.91 L321.8,502.37 L323.8,501.86 L325.7,501.39 L327.7,500.94 L329.6,500.53 L331.6,500.14 L333.5,499.77 L335.5,499.44 L337.4,499.12 L339.4,498.83 L341.3,498.56 L343.3,498.31 L345.3,498.07 L347.2,497.85 L349.2,497.65 L351.1,497.46 L353.1,497.29 L355.0,497.13 L357.0,496.97 L358.9,496.83 L360.9,496.69 L362.8,496.56 L364.8,496.43 L366.7,496.31 L368.7,496.19 L370.6,496.07 L372.6,495.95 L374.5,495.84 L376.5,495.73 L378.4,495.62 L380.4,495.52 L382.3,495.41 L384.3,495.31 L386.2,495.21 L388.2,495.12 L390.1,495.02 L392.1,494.93 L394.0,494.84 L396.0,494.75 L397.9,494.67 L399.9,494.58 L401.8,494.50 L403.8,494.42 L405.7,494.35 L407.7,494.27 L409.6,494.20 L411.6,494.13 L413.5,494.06 L415.5,493.99 L417.4,493.93 L419.4,493.87 L421.3,493.80 L423.3,493.74 L425.3,493.69 L427.2,493.63 L429.2,493.58 L431.1,493.53 L433.1,493.48 L435.0,493.43 L437.0,493.38 L438.9,493.34 L440.9,493.29 L442.8,493.25 L444.8,493.21 L446.7,493.17 L448.7,493.14 L450.6,493.10 L452.6,493.07 L454.5,493.03 L456.5,493.00 L458.4,492.97 L460.4,492.95 L462.3,492.92 L464.3,492.89 L466.2,492.87 L468.2,492.85 L470.1,492.83 L472.1,492.81 L474.0,492.79 L476.0,492.77 L477.9,492.75 L479.9,492.74 L481.8,492.72 L483.8,492.71 L485.7,492.70 L487.7,492.69 L489.6,492.68 L491.6,492.67 L493.5,492.66 L495.5,492.65 L497.4,492.64 L499.4,492.63 L501.3,492.63 L503.3,492.62 L505.2,492.62 L507.2,492.61 L509.2,492.61 L511.1,492.61 L513.1,492.61 L515.0,492.60 L517.0,492.60 L518.9,492.60 L520.9,492.60 L522.8,492.60 L524.8,492.60 L526.7,492.60 L528.7,492.60 L530.6,492.60 L532.6,492.60 L534.5,492.60 L536.5,492.60 L538.4,492.60 L540.4,492.60 L542.3,492.60 L544.3,492.60 L546.2,492.60 L548.2,492.60 L550.1,492.60 L552.1,492.60 L554.0,492.60 L556.0,492.60 L557.9,492.60 L559.9,492.60 L561.8,492.60 L563.8,492.60 L565.7,492.60 L567.7,492.60 L569.6,492.60 L571.6,492.60 L573.5,492.60 L575.5,492.60 L577.4,492.60 L579.4,492.60 L581.3,492.60 L583.3,492.60 L585.2,492.60 L587.2,492.60 L589.1,492.60 L591.1,492.60 L593.1,492.60 L595.0,492.60 L597.0,492.60 L598.9,492.60 L600.9,492.60 L602.8,492.60 L604.8,492.60 L606.7,492.60 L608.7,492.60 L610.6,492.60 L612.6,492.60 L614.5,492.60 L616.5,492.60 L618.4,492.60 L620.4,492.60 L622.3,492.60 L624.3,492.60 L626.2,492.60 L628.2,492.60 L630.1,492.60 L632.1,492.60 L634.0,492.60 L636.0,492.60 L637.9,492.60 L639.9,492.60 L641.8,492.60 L643.8,492.60 L645.7,492.60 L647.7,492.60 L649.6,492.60 L651.6,492.60 L653.5,492.60 L655.5,492.60 L657.4,492.60 L659.4,492.60 L661.3,492.60 L663.3,492.60 L665.2,492.60 L667.2,492.60 L669.1,492.60 L671.1,492.60 L673.0,492.60 L675.0,492.60" fill="none" stroke="#12a14a" stroke-width="5.7" stroke-linecap="round" stroke-linejoin="round"/>
<line x1="91.00" y1="723.80" x2="674.60" y2="723.80" stroke="#c93366" stroke-width="3.5" stroke-linecap="round"/>
<line x1="189.20" y1="723.80" x2="189.20" y2="720.50" stroke="#c93366" stroke-width="3.5" stroke-linecap="round"/>
<line x1="287.70" y1="723.80" x2="287.70" y2="720.50" stroke="#c93366" stroke-width="3.5" stroke-linecap="round"/>
<line x1="388.30" y1="723.80" x2="388.30" y2="720.50" stroke="#c93366" stroke-width="3.5" stroke-linecap="round"/>
<line x1="489.10" y1="723.80" x2="489.10" y2="720.50" stroke="#c93366" stroke-width="3.5" stroke-linecap="round"/>
<line x1="585.80" y1="723.80" x2="585.80" y2="720.50" stroke="#c93366" stroke-width="3.5" stroke-linecap="round"/>
<line x1="91.00" y1="456.90" x2="674.60" y2="456.90" stroke="#2b83c6" stroke-width="3.5" stroke-linecap="round"/>
<line x1="189.20" y1="456.90" x2="189.20" y2="460.20" stroke="#2b83c6" stroke-width="3.5" stroke-linecap="round"/>
<line x1="287.70" y1="456.90" x2="287.70" y2="460.20" stroke="#2b83c6" stroke-width="3.5" stroke-linecap="round"/>
<line x1="388.30" y1="456.90" x2="388.30" y2="460.20" stroke="#2b83c6" stroke-width="3.5" stroke-linecap="round"/>
<line x1="489.10" y1="456.90" x2="489.10" y2="460.20" stroke="#2b83c6" stroke-width="3.5" stroke-linecap="round"/>
<line x1="585.80" y1="456.90" x2="585.80" y2="460.20" stroke="#2b83c6" stroke-width="3.5" stroke-linecap="round"/>
<line x1="674.60" y1="458.40" x2="674.60" y2="724.60" stroke="#12a14a" stroke-width="3.5" stroke-linecap="round"/>
<line x1="674.60" y1="701.70" x2="668.60" y2="701.70" stroke="#12a14a" stroke-width="3.6" stroke-linecap="round"/>
<line x1="674.60" y1="678.58" x2="668.60" y2="678.58" stroke="#12a14a" stroke-width="3.6" stroke-linecap="round"/>
<line x1="674.60" y1="655.46" x2="668.60" y2="655.46" stroke="#12a14a" stroke-width="3.6" stroke-linecap="round"/>
<line x1="674.60" y1="632.34" x2="668.60" y2="632.34" stroke="#12a14a" stroke-width="3.6" stroke-linecap="round"/>
<line x1="674.60" y1="609.22" x2="668.60" y2="609.22" stroke="#12a14a" stroke-width="3.6" stroke-linecap="round"/>
<line x1="674.60" y1="586.10" x2="668.60" y2="586.10" stroke="#12a14a" stroke-width="3.6" stroke-linecap="round"/>
<line x1="674.60" y1="562.98" x2="668.60" y2="562.98" stroke="#12a14a" stroke-width="3.6" stroke-linecap="round"/>
<line x1="674.60" y1="539.86" x2="668.60" y2="539.86" stroke="#12a14a" stroke-width="3.6" stroke-linecap="round"/>
<line x1="674.60" y1="516.74" x2="668.60" y2="516.74" stroke="#12a14a" stroke-width="3.6" stroke-linecap="round"/>
<line x1="674.60" y1="493.62" x2="668.60" y2="493.62" stroke="#12a14a" stroke-width="3.6" stroke-linecap="round"/>
<rect x="499.50" y="865.25" width="175.00" height="264.55" fill="#f7d6cd"/>
<line x1="88.70" y1="865.25" x2="88.70" y2="1131.00" stroke="#1c1c1c" stroke-width="2.1" stroke-linecap="butt"/>
<line x1="88.70" y1="1096.63" x2="95.70" y2="1096.63" stroke="#1c1c1c" stroke-width="1.95" stroke-linecap="butt"/>
<line x1="88.70" y1="1063.46" x2="95.70" y2="1063.46" stroke="#1c1c1c" stroke-width="1.95" stroke-linecap="butt"/>
<line x1="88.70" y1="1030.29" x2="95.70" y2="1030.29" stroke="#1c1c1c" stroke-width="1.95" stroke-linecap="butt"/>
<line x1="88.70" y1="997.12" x2="95.70" y2="997.12" stroke="#1c1c1c" stroke-width="1.95" stroke-linecap="butt"/>
<line x1="88.70" y1="963.95" x2="95.70" y2="963.95" stroke="#1c1c1c" stroke-width="1.95" stroke-linecap="butt"/>
<line x1="88.70" y1="930.78" x2="95.70" y2="930.78" stroke="#1c1c1c" stroke-width="1.95" stroke-linecap="butt"/>
<line x1="88.70" y1="897.61" x2="95.70" y2="897.61" stroke="#1c1c1c" stroke-width="1.95" stroke-linecap="butt"/>
<path d="M87.5,914.10 L89.5,914.18 L91.4,914.31 L93.4,914.47 L95.4,914.67 L97.3,914.91 L99.3,915.19 L101.3,915.51 L103.2,915.87 L105.2,916.27 L107.1,916.70 L109.1,917.18 L111.1,917.70 L113.0,918.26 L115.0,918.86 L117.0,919.50 L118.9,920.18 L120.9,920.90 L122.9,921.67 L124.8,922.47 L126.8,923.32 L128.8,924.21 L130.7,925.14 L132.7,926.12 L134.7,927.13 L136.6,928.19 L138.6,929.29 L140.6,930.44 L142.5,931.63 L144.5,932.86 L146.4,934.13 L148.4,935.45 L150.4,936.81 L152.3,938.21 L154.3,939.65 L156.3,941.14 L158.2,942.66 L160.2,944.23 L162.2,945.84 L164.1,947.49 L166.1,949.19 L168.1,950.92 L170.0,952.69 L172.0,954.50 L174.0,956.34 L175.9,958.22 L177.9,960.13 L179.8,962.07 L181.8,964.04 L183.8,966.04 L185.7,968.07 L187.7,970.12 L189.7,972.20 L191.6,974.29 L193.6,976.41 L195.6,978.55 L197.5,980.70 L199.5,982.87 L201.5,985.06 L203.4,987.26 L205.4,989.47 L207.4,991.69 L209.3,993.91 L211.3,996.15 L213.3,998.39 L215.2,1000.63 L217.2,1002.88 L219.1,1005.13 L221.1,1007.37 L223.1,1009.62 L225.0,1011.86 L227.0,1014.09 L229.0,1016.32 L230.9,1018.53 L232.9,1020.74 L234.9,1022.93 L236.8,1025.10 L238.8,1027.26 L240.8,1029.40 L242.7,1031.53 L244.7,1033.62 L246.7,1035.70 L248.6,1037.75 L250.6,1039.77 L252.6,1041.76 L254.5,1043.72 L256.5,1045.65 L258.4,1047.55 L260.4,1049.41 L262.4,1051.25 L264.3,1053.04 L266.3,1054.81 L268.3,1056.54 L270.2,1058.24 L272.2,1059.91 L274.2,1061.54 L276.1,1063.14 L278.1,1064.70 L280.1,1066.23 L282.0,1067.73 L284.0,1069.19 L286.0,1070.62 L287.9,1072.01 L289.9,1073.37 L291.8,1074.70 L293.8,1075.99 L295.8,1077.24 L297.7,1078.46 L299.7,1079.65 L301.7,1080.80 L303.6,1081.92 L305.6,1083.00 L307.6,1084.06 L309.5,1085.08 L311.5,1086.08 L313.5,1087.05 L315.4,1087.98 L317.4,1088.90 L319.4,1089.78 L321.3,1090.64 L323.3,1091.48 L325.3,1092.29 L327.2,1093.08 L329.2,1093.85 L331.1,1094.60 L333.1,1095.33 L335.1,1096.04 L337.0,1096.73 L339.0,1097.40 L341.0,1098.06 L342.9,1098.70 L344.9,1099.33 L346.9,1099.95 L348.8,1100.55 L350.8,1101.14 L352.8,1101.71 L354.7,1102.28 L356.7,1102.84 L358.7,1103.38 L360.6,1103.91 L362.6,1104.44 L364.5,1104.95 L366.5,1105.45 L368.5,1105.94 L370.4,1106.41 L372.4,1106.88 L374.4,1107.34 L376.3,1107.78 L378.3,1108.22 L380.3,1108.64 L382.2,1109.06 L384.2,1109.46 L386.2,1109.85 L388.1,1110.23 L390.1,1110.61 L392.1,1110.97 L394.0,1111.32 L396.0,1111.66 L398.0,1111.99 L399.9,1112.31 L401.9,1112.62 L403.8,1112.92 L405.8,1113.21 L407.8,1113.49 L409.7,1113.77 L411.7,1114.03 L413.7,1114.29 L415.6,1114.54 L417.6,1114.77 L419.6,1115.00 L421.5,1115.23 L423.5,1115.44 L425.5,1115.65 L427.4,1115.85 L429.4,1116.04 L431.4,1116.22 L433.3,1116.40 L435.3,1116.57 L437.2,1116.74 L439.2,1116.89 L441.2,1117.04 L443.1,1117.19 L445.1,1117.33 L447.1,1117.46 L449.0,1117.59 L451.0,1117.71 L453.0,1117.82 L454.9,1117.93 L456.9,1118.04 L458.9,1118.13 L460.8,1118.23 L462.8,1118.32 L464.8,1118.40 L466.7,1118.49 L468.7,1118.56 L470.7,1118.64 L472.6,1118.70 L474.6,1118.77 L476.5,1118.83 L478.5,1118.89 L480.5,1118.94 L482.4,1119.00 L484.4,1119.04 L486.4,1119.09 L488.3,1119.13 L490.3,1119.17 L492.3,1119.21 L494.2,1119.25 L496.2,1119.28 L498.2,1119.32 L500.1,1119.35 L502.1,1119.38 L504.1,1119.41 L506.0,1119.43 L508.0,1119.46 L509.9,1119.48 L511.9,1119.51 L513.9,1119.53 L515.8,1119.56 L517.8,1119.58 L519.8,1119.60 L521.7,1119.63 L523.7,1119.65 L525.7,1119.67 L527.6,1119.69 L529.6,1119.71 L531.6,1119.73 L533.5,1119.75 L535.5,1119.77 L537.5,1119.79 L539.4,1119.81 L541.4,1119.83 L543.4,1119.85 L545.3,1119.87 L547.3,1119.89 L549.2,1119.90 L551.2,1119.92 L553.2,1119.94 L555.1,1119.95 L557.1,1119.97 L559.1,1119.99 L561.0,1120.00 L563.0,1120.02 L565.0,1120.03 L566.9,1120.05 L568.9,1120.06 L570.9,1120.07 L572.8,1120.09 L574.8,1120.10 L576.8,1120.11 L578.7,1120.13 L580.7,1120.14 L582.7,1120.15 L584.6,1120.16 L586.6,1120.17 L588.5,1120.18 L590.5,1120.19 L592.5,1120.21 L594.4,1120.22 L596.4,1120.23 L598.4,1120.24 L600.3,1120.25 L602.3,1120.25 L604.3,1120.26 L606.2,1120.27 L608.2,1120.28 L610.2,1120.29 L612.1,1120.30 L614.1,1120.31 L616.1,1120.31 L618.0,1120.32 L620.0,1120.33 L621.9,1120.34 L623.9,1120.34 L625.9,1120.35 L627.8,1120.36 L629.8,1120.37 L631.8,1120.37 L633.7,1120.38 L635.7,1120.39 L637.7,1120.39 L639.6,1120.40 L641.6,1120.40 L643.6,1120.41 L645.5,1120.42 L647.5,1120.42 L649.5,1120.43 L651.4,1120.43 L653.4,1120.44 L655.4,1120.44 L657.3,1120.45 L659.3,1120.45 L661.2,1120.46 L663.2,1120.47 L665.2,1120.47 L667.1,1120.48 L669.1,1120.48 L671.1,1120.49 L673.0,1120.49 L675.0,1120.50" fill="none" stroke="#2b83c6" stroke-width="5.3" stroke-linecap="round" stroke-linejoin="round"/>
<path d="M87.5,914.06 L89.5,914.16 L91.4,914.31 L93.4,914.51 L95.4,914.76 L97.3,915.06 L99.3,915.41 L101.3,915.80 L103.2,916.24 L105.2,916.72 L107.1,917.25 L109.1,917.81 L111.1,918.42 L113.0,919.07 L115.0,919.75 L117.0,920.47 L118.9,921.22 L120.9,922.01 L122.9,922.83 L124.8,923.68 L126.8,924.56 L128.8,925.47 L130.7,926.40 L132.7,927.37 L134.7,928.35 L136.6,929.37 L138.6,930.40 L140.6,931.45 L142.5,932.53 L144.5,933.62 L146.4,934.73 L148.4,935.86 L150.4,937.00 L152.3,938.15 L154.3,939.32 L156.3,940.50 L158.2,941.68 L160.2,942.88 L162.2,944.08 L164.1,945.29 L166.1,946.51 L168.1,947.73 L170.0,948.95 L172.0,950.18 L174.0,951.40 L175.9,952.63 L177.9,953.86 L179.8,955.09 L181.8,956.32 L183.8,957.54 L185.7,958.76 L187.7,959.98 L189.7,961.19 L191.6,962.40 L193.6,963.60 L195.6,964.79 L197.5,965.97 L199.5,967.14 L201.5,968.30 L203.4,969.46 L205.4,970.60 L207.4,971.72 L209.3,972.83 L211.3,973.93 L213.3,975.01 L215.2,976.08 L217.2,977.13 L219.1,978.16 L221.1,979.17 L223.1,980.16 L225.0,981.14 L227.0,982.10 L229.0,983.04 L230.9,983.97 L232.9,984.88 L234.9,985.77 L236.8,986.64 L238.8,987.50 L240.8,988.34 L242.7,989.17 L244.7,989.98 L246.7,990.78 L248.6,991.56 L250.6,992.32 L252.6,993.07 L254.5,993.80 L256.5,994.52 L258.4,995.23 L260.4,995.92 L262.4,996.59 L264.3,997.25 L266.3,997.90 L268.3,998.54 L270.2,999.16 L272.2,999.76 L274.2,1000.36 L276.1,1000.94 L278.1,1001.50 L280.1,1002.06 L282.0,1002.60 L284.0,1003.13 L286.0,1003.65 L287.9,1004.15 L289.9,1004.65 L291.8,1005.13 L293.8,1005.60 L295.8,1006.06 L297.7,1006.50 L299.7,1006.94 L301.7,1007.37 L303.6,1007.78 L305.6,1008.18 L307.6,1008.58 L309.5,1008.96 L311.5,1009.33 L313.5,1009.70 L315.4,1010.05 L317.4,1010.40 L319.4,1010.73 L321.3,1011.06 L323.3,1011.37 L325.3,1011.68 L327.2,1011.98 L329.2,1012.27 L331.1,1012.55 L333.1,1012.83 L335.1,1013.09 L337.0,1013.35 L339.0,1013.60 L341.0,1013.84 L342.9,1014.08 L344.9,1014.30 L346.9,1014.52 L348.8,1014.73 L350.8,1014.94 L352.8,1015.13 L354.7,1015.33 L356.7,1015.51 L358.7,1015.69 L360.6,1015.86 L362.6,1016.02 L364.5,1016.18 L366.5,1016.33 L368.5,1016.48 L370.4,1016.61 L372.4,1016.75 L374.4,1016.88 L376.3,1017.00 L378.3,1017.12 L380.3,1017.23 L382.2,1017.33 L384.2,1017.44 L386.2,1017.53 L388.1,1017.63 L390.1,1017.71 L392.1,1017.80 L394.0,1017.87 L396.0,1017.95 L398.0,1018.02 L399.9,1018.08 L401.9,1018.15 L403.8,1018.20 L405.8,1018.26 L407.8,1018.31 L409.7,1018.36 L411.7,1018.40 L413.7,1018.44 L415.6,1018.48 L417.6,1018.52 L419.6,1018.55 L421.5,1018.58 L423.5,1018.61 L425.5,1018.63 L427.4,1018.65 L429.4,1018.68 L431.4,1018.69 L433.3,1018.71 L435.3,1018.73 L437.2,1018.74 L439.2,1018.75 L441.2,1018.76 L443.1,1018.77 L445.1,1018.78 L447.1,1018.79 L449.0,1018.79 L451.0,1018.80 L453.0,1018.80 L454.9,1018.81 L456.9,1018.81 L458.9,1018.82 L460.8,1018.82 L462.8,1018.83 L464.8,1018.83 L466.7,1018.83 L468.7,1018.84 L470.7,1018.84 L472.6,1018.85 L474.6,1018.85 L476.5,1018.85 L478.5,1018.86 L480.5,1018.86 L482.4,1018.86 L484.4,1018.87 L486.4,1018.87 L488.3,1018.88 L490.3,1018.88 L492.3,1018.88 L494.2,1018.89 L496.2,1018.89 L498.2,1018.89 L500.1,1018.90 L502.1,1018.90 L504.1,1018.91 L506.0,1018.91 L508.0,1018.91 L509.9,1018.92 L511.9,1018.92 L513.9,1018.92 L515.8,1018.93 L517.8,1018.93 L519.8,1018.93 L521.7,1018.94 L523.7,1018.94 L525.7,1018.94 L527.6,1018.95 L529.6,1018.95 L531.6,1018.95 L533.5,1018.95 L535.5,1018.96 L537.5,1018.96 L539.4,1018.96 L541.4,1018.97 L543.4,1018.97 L545.3,1018.97 L547.3,1018.97 L549.2,1018.98 L551.2,1018.98 L553.2,1018.98 L555.1,1018.98 L557.1,1018.99 L559.1,1018.99 L561.0,1018.99 L563.0,1018.99 L565.0,1019.00 L566.9,1019.00 L568.9,1019.00 L570.9,1019.00 L572.8,1019.00 L574.8,1019.01 L576.8,1019.01 L578.7,1019.01 L580.7,1019.01 L582.7,1019.01 L584.6,1019.01 L586.6,1019.01 L588.5,1019.02 L590.5,1019.02 L592.5,1019.02 L594.4,1019.02 L596.4,1019.02 L598.4,1019.02 L600.3,1019.02 L602.3,1019.02 L604.3,1019.02 L606.2,1019.02 L608.2,1019.02 L610.2,1019.02 L612.1,1019.02 L614.1,1019.03 L616.1,1019.03 L618.0,1019.03 L620.0,1019.03 L621.9,1019.03 L623.9,1019.02 L625.9,1019.02 L627.8,1019.02 L629.8,1019.02 L631.8,1019.02 L633.7,1019.02 L635.7,1019.02 L637.7,1019.02 L639.6,1019.02 L641.6,1019.02 L643.6,1019.02 L645.5,1019.02 L647.5,1019.01 L649.5,1019.01 L651.4,1019.01 L653.4,1019.01 L655.4,1019.01 L657.3,1019.01 L659.3,1019.00 L661.2,1019.00 L663.2,1019.00 L665.2,1019.00 L667.1,1018.99 L669.1,1018.99 L671.1,1018.99 L673.0,1018.98 L675.0,1018.98" fill="none" stroke="#c93366" stroke-width="5.7" stroke-linecap="round" stroke-linejoin="round"/>
<line x1="88.10" y1="1129.80" x2="674.50" y2="1129.80" stroke="#c93366" stroke-width="3.7" stroke-linecap="round"/>
<line x1="146.19" y1="1129.80" x2="146.19" y2="1126.50" stroke="#c93366" stroke-width="3.5" stroke-linecap="round"/>
<line x1="204.88" y1="1129.80" x2="204.88" y2="1126.50" stroke="#c93366" stroke-width="3.5" stroke-linecap="round"/>
<line x1="263.57" y1="1129.80" x2="263.57" y2="1126.50" stroke="#c93366" stroke-width="3.5" stroke-linecap="round"/>
<line x1="322.26" y1="1129.80" x2="322.26" y2="1126.50" stroke="#c93366" stroke-width="3.5" stroke-linecap="round"/>
<line x1="380.95" y1="1129.80" x2="380.95" y2="1126.50" stroke="#c93366" stroke-width="3.5" stroke-linecap="round"/>
<line x1="439.64" y1="1129.80" x2="439.64" y2="1126.50" stroke="#c93366" stroke-width="3.5" stroke-linecap="round"/>
<line x1="498.33" y1="1129.80" x2="498.33" y2="1126.50" stroke="#c93366" stroke-width="3.5" stroke-linecap="round"/>
<line x1="557.02" y1="1129.80" x2="557.02" y2="1126.50" stroke="#c93366" stroke-width="3.5" stroke-linecap="round"/>
<line x1="615.71" y1="1129.80" x2="615.71" y2="1126.50" stroke="#c93366" stroke-width="3.5" stroke-linecap="round"/>
<line x1="88.10" y1="865.25" x2="674.50" y2="865.25" stroke="#2b83c6" stroke-width="3.7" stroke-linecap="round"/>
<line x1="146.19" y1="865.25" x2="146.19" y2="868.55" stroke="#2b83c6" stroke-width="3.5" stroke-linecap="round"/>
<line x1="204.88" y1="865.25" x2="204.88" y2="868.55" stroke="#2b83c6" stroke-width="3.5" stroke-linecap="round"/>
<line x1="263.57" y1="865.25" x2="263.57" y2="868.55" stroke="#2b83c6" stroke-width="3.5" stroke-linecap="round"/>
<line x1="322.26" y1="865.25" x2="322.26" y2="868.55" stroke="#2b83c6" stroke-width="3.5" stroke-linecap="round"/>
<line x1="380.95" y1="865.25" x2="380.95" y2="868.55" stroke="#2b83c6" stroke-width="3.5" stroke-linecap="round"/>
<line x1="439.64" y1="865.25" x2="439.64" y2="868.55" stroke="#2b83c6" stroke-width="3.5" stroke-linecap="round"/>
<line x1="498.33" y1="865.25" x2="498.33" y2="868.55" stroke="#2b83c6" stroke-width="3.5" stroke-linecap="round"/>
<line x1="557.02" y1="865.25" x2="557.02" y2="868.55" stroke="#2b83c6" stroke-width="3.5" stroke-linecap="round"/>
<line x1="615.71" y1="865.25" x2="615.71" y2="868.55" stroke="#2b83c6" stroke-width="3.5" stroke-linecap="round"/>
<line x1="674.50" y1="864.45" x2="674.50" y2="1130.60" stroke="#12a14a" stroke-width="3.7" stroke-linecap="round"/>
<line x1="674.50" y1="896.90" x2="668.50" y2="896.90" stroke="#12a14a" stroke-width="3.6" stroke-linecap="round"/>
<line x1="674.50" y1="920.23" x2="668.50" y2="920.23" stroke="#12a14a" stroke-width="3.6" stroke-linecap="round"/>
<line x1="674.50" y1="943.56" x2="668.50" y2="943.56" stroke="#12a14a" stroke-width="3.6" stroke-linecap="round"/>
<line x1="674.50" y1="966.89" x2="668.50" y2="966.89" stroke="#12a14a" stroke-width="3.6" stroke-linecap="round"/>
<line x1="674.50" y1="990.22" x2="668.50" y2="990.22" stroke="#12a14a" stroke-width="3.6" stroke-linecap="round"/>
<line x1="674.50" y1="1013.55" x2="668.50" y2="1013.55" stroke="#12a14a" stroke-width="3.6" stroke-linecap="round"/>
<line x1="674.50" y1="1036.88" x2="668.50" y2="1036.88" stroke="#12a14a" stroke-width="3.6" stroke-linecap="round"/>
<line x1="674.50" y1="1060.21" x2="668.50" y2="1060.21" stroke="#12a14a" stroke-width="3.6" stroke-linecap="round"/>
<line x1="674.50" y1="1083.54" x2="668.50" y2="1083.54" stroke="#12a14a" stroke-width="3.6" stroke-linecap="round"/>
<line x1="674.50" y1="1106.87" x2="668.50" y2="1106.87" stroke="#12a14a" stroke-width="3.6" stroke-linecap="round"/>
<path d="M88.0,1128.47 L90.0,1128.71 L91.9,1128.93 L93.9,1129.14 L95.9,1129.34 L97.8,1129.52 L99.8,1129.69 L101.7,1129.85 L103.7,1130.00 L105.7,1130.12 L107.6,1130.24 L109.6,1130.33 L111.6,1130.41 L113.5,1130.46 L115.5,1130.50 L117.4,1130.52 L119.4,1130.51 L121.4,1130.48 L123.3,1130.43 L125.3,1130.36 L127.3,1130.26 L129.2,1130.14 L131.2,1129.99 L133.2,1129.81 L135.1,1129.60 L137.1,1129.37 L139.0,1129.10 L141.0,1128.81 L143.0,1128.48 L144.9,1128.13 L146.9,1127.73 L148.9,1127.31 L150.8,1126.85 L152.8,1126.36 L154.7,1125.83 L156.7,1125.26 L158.7,1124.66 L160.6,1124.01 L162.6,1123.33 L164.6,1122.61 L166.5,1121.84 L168.5,1121.04 L170.5,1120.19 L172.4,1119.30 L174.4,1118.36 L176.3,1117.38 L178.3,1116.35 L180.3,1115.28 L182.2,1114.16 L184.2,1112.99 L186.2,1111.77 L188.1,1110.50 L190.1,1109.19 L192.1,1107.81 L194.0,1106.39 L196.0,1104.92 L197.9,1103.39 L199.9,1101.80 L201.9,1100.16 L203.8,1098.46 L205.8,1096.71 L207.8,1094.90 L209.7,1093.05 L211.7,1091.14 L213.6,1089.18 L215.6,1087.18 L217.6,1085.14 L219.5,1083.05 L221.5,1080.93 L223.5,1078.77 L225.4,1076.57 L227.4,1074.34 L229.4,1072.08 L231.3,1069.79 L233.3,1067.47 L235.2,1065.13 L237.2,1062.77 L239.2,1060.38 L241.1,1057.98 L243.1,1055.55 L245.1,1053.12 L247.0,1050.67 L249.0,1048.21 L250.9,1045.75 L252.9,1043.27 L254.9,1040.80 L256.8,1038.32 L258.8,1035.84 L260.8,1033.36 L262.7,1030.89 L264.7,1028.42 L266.7,1025.97 L268.6,1023.52 L270.6,1021.09 L272.5,1018.68 L274.5,1016.29 L276.5,1013.91 L278.4,1011.56 L280.4,1009.24 L282.4,1006.94 L284.3,1004.68 L286.3,1002.44 L288.2,1000.24 L290.2,998.08 L292.2,995.95 L294.1,993.86 L296.1,991.80 L298.1,989.78 L300.0,987.79 L302.0,985.85 L304.0,983.94 L305.9,982.07 L307.9,980.24 L309.8,978.45 L311.8,976.70 L313.8,974.99 L315.7,973.33 L317.7,971.70 L319.7,970.12 L321.6,968.58 L323.6,967.09 L325.5,965.64 L327.5,964.23 L329.5,962.87 L331.4,961.55 L333.4,960.27 L335.4,959.03 L337.3,957.82 L339.3,956.66 L341.3,955.54 L343.2,954.45 L345.2,953.39 L347.1,952.37 L349.1,951.39 L351.1,950.44 L353.0,949.52 L355.0,948.63 L357.0,947.77 L358.9,946.94 L360.9,946.14 L362.8,945.36 L364.8,944.62 L366.8,943.90 L368.7,943.20 L370.7,942.53 L372.7,941.88 L374.6,941.25 L376.6,940.64 L378.6,940.06 L380.5,939.49 L382.5,938.94 L384.4,938.41 L386.4,937.90 L388.4,937.40 L390.3,936.92 L392.3,936.45 L394.3,936.00 L396.2,935.55 L398.2,935.12 L400.2,934.70 L402.1,934.29 L404.1,933.88 L406.0,933.49 L408.0,933.11 L410.0,932.73 L411.9,932.37 L413.9,932.01 L415.9,931.66 L417.8,931.32 L419.8,930.99 L421.7,930.66 L423.7,930.35 L425.7,930.04 L427.6,929.74 L429.6,929.45 L431.6,929.16 L433.5,928.88 L435.5,928.61 L437.5,928.35 L439.4,928.09 L441.4,927.84 L443.3,927.60 L445.3,927.36 L447.3,927.13 L449.2,926.91 L451.2,926.69 L453.2,926.48 L455.1,926.27 L457.1,926.07 L459.0,925.88 L461.0,925.69 L463.0,925.51 L464.9,925.33 L466.9,925.15 L468.9,924.98 L470.8,924.82 L472.8,924.66 L474.8,924.51 L476.7,924.36 L478.7,924.21 L480.6,924.07 L482.6,923.93 L484.6,923.79 L486.5,923.66 L488.5,923.54 L490.5,923.41 L492.4,923.29 L494.4,923.18 L496.3,923.06 L498.3,922.95 L500.3,922.84 L502.2,922.73 L504.2,922.63 L506.2,922.53 L508.1,922.43 L510.1,922.33 L512.1,922.24 L514.0,922.15 L516.0,922.06 L517.9,921.97 L519.9,921.89 L521.9,921.80 L523.8,921.72 L525.8,921.65 L527.8,921.57 L529.7,921.50 L531.7,921.42 L533.6,921.35 L535.6,921.28 L537.6,921.22 L539.5,921.15 L541.5,921.09 L543.5,921.03 L545.4,920.97 L547.4,920.92 L549.4,920.86 L551.3,920.81 L553.3,920.75 L555.2,920.70 L557.2,920.66 L559.2,920.61 L561.1,920.56 L563.1,920.52 L565.1,920.48 L567.0,920.43 L569.0,920.39 L570.9,920.36 L572.9,920.32 L574.9,920.28 L576.8,920.25 L578.8,920.21 L580.8,920.18 L582.7,920.15 L584.7,920.12 L586.7,920.09 L588.6,920.06 L590.6,920.03 L592.5,920.01 L594.5,919.98 L596.5,919.96 L598.4,919.93 L600.4,919.91 L602.4,919.89 L604.3,919.87 L606.3,919.85 L608.3,919.83 L610.2,919.81 L612.2,919.79 L614.1,919.77 L616.1,919.75 L618.1,919.74 L620.0,919.72 L622.0,919.70 L624.0,919.69 L625.9,919.67 L627.9,919.66 L629.8,919.64 L631.8,919.63 L633.8,919.61 L635.7,919.60 L637.7,919.58 L639.7,919.57 L641.6,919.56 L643.6,919.54 L645.6,919.53 L647.5,919.51 L649.5,919.50 L651.4,919.48 L653.4,919.47 L655.4,919.46 L657.3,919.44 L659.3,919.43 L661.3,919.41 L663.2,919.40 L665.2,919.38 L667.1,919.36 L669.1,919.35 L671.1,919.33 L673.0,919.31 L675.0,919.29" fill="none" stroke="#12a14a" stroke-width="5.7" stroke-linecap="round" stroke-linejoin="round"/>
<!--TEXT-->
<text x="58.10" y="50.30" font-size="44" >0.0</text>
<text x="639.75" y="50.30" font-size="44" >0.5</text>
<text x="12.05" y="103.00" font-size="44" >10</text>
<text x="59.15" y="88.60" font-size="26" >-5</text>
<text x="12.15" y="335.90" font-size="44" >10</text>
<text x="59.35" y="321.90" font-size="26" >-9</text>
<text x="59.15" y="365.80" font-size="44" >0.0</text>
<text x="636.15" y="368.90" font-size="44" >0.5</text>
<text x="679.85" y="104.10" font-size="37" >100</text>
<text x="683.10" y="326.50" font-size="37" >0</text>
<text transform="translate(44.00,232.00) rotate(-90)" font-size="44">I [A]</text>
<text transform="translate(689.00,130.70) rotate(90)" font-size="38">PMR [%]</text>
<text x="293.45" y="41.50" font-size="35.8">V</text>
<text x="317.29" y="53.50" font-size="21">G1,3</text>
<text x="372.76" y="41.50" font-size="35.8">(-V</text>
<text x="420.41" y="53.50" font-size="21">G2,4</text>
<text x="465.95" y="41.50" font-size="35.8">) [V]</text>
<text x="286.05" y="361.20" font-size="35.8">V</text>
<text x="309.89" y="373.20" font-size="21">G1,4</text>
<text x="365.36" y="361.20" font-size="35.8">(-V</text>
<text x="413.01" y="373.20" font-size="21">G2,3</text>
<text x="458.55" y="361.20" font-size="35.8">) [V]</text>
<line x1="493.40" y1="149.10" x2="541.00" y2="149.10" stroke="#c93366" stroke-width="5.4" stroke-linecap="round"/>
<line x1="494.60" y1="200.20" x2="541.80" y2="200.20" stroke="#2b83c6" stroke-width="5.4" stroke-linecap="round"/>
<line x1="496.60" y1="245.20" x2="543.60" y2="245.20" stroke="#12a14a" stroke-width="5.4" stroke-linecap="round"/>
<text x="550.95" y="152.60" font-size="35" >I</text>
<text x="560.20" y="164.30" font-size="20" >P</text>
<text x="550.95" y="204.10" font-size="35" >I</text>
<text x="560.30" y="216.20" font-size="20" >AP</text>
<text x="554.85" y="259.00" font-size="32.5" >PMR</text>
<text x="600.35" y="185.60" font-size="52" >(a)</text>
<path d="M157.69,104.48 L158.20,103.40 L158.72,102.39 L159.26,101.46 L159.81,100.59 L160.37,99.80 L160.94,99.09 L161.53,98.45 L162.12,97.89 L162.72,97.40 L163.33,97.00 L163.94,96.68 L164.56,96.44 L165.18,96.28 L165.80,96.21 L166.42,96.21 L167.05,96.30 L167.67,96.48 L168.28,96.73 L168.89,97.06 L169.50,97.48 L170.10,97.97 L170.69,98.55 L171.27,99.20 L171.85,99.93 L172.41,100.73 L172.95,101.61 L173.49,102.56 L174.01,103.58 L174.51,104.66 L174.99,105.82 L175.46,107.03 L175.91,108.31 L176.34,109.64 L176.75,111.03 L177.14,112.47 L177.50,113.96 L177.84,115.50 L178.16,117.08 L178.46,118.70 L178.73,120.36 L178.97,122.06 L179.19,123.78 L179.38,125.54 L179.54,127.31 L179.68,129.11 L179.79,130.92 L179.87,132.74 L179.93,134.58 L179.96,136.42 L179.96,138.26 L179.93,140.10 L179.87,141.93 L179.79,143.75 L179.68,145.56 L179.54,147.36 L179.37,149.13 L179.18,150.88 L178.96,152.61 L178.72,154.30 L178.44,155.96 L178.15,157.58 L177.83,159.16 L177.49,160.70 L177.12,162.19 L176.73,163.63 L176.32,165.01 L175.89,166.35 L175.44,167.62 L174.98,168.83 L174.49,169.98 L173.99,171.06 L173.47,172.08 L172.93,173.02 L172.38,173.90 L171.82,174.70 L171.25,175.43 L170.67,176.07 L170.08,176.65 L169.48,177.14 L168.87,177.55 L168.26,177.88 L167.64,178.13 L167.02,178.30 L166.40,178.39 L165.78,178.39 L165.15,178.31 L164.53,178.15 L163.92,177.91 L163.30,177.58 L162.70,177.18 L162.10,176.69 L161.50,176.13 L160.92,175.49 L160.35,174.77 L159.79,173.97 L159.24,173.11 L158.70,172.17 L158.18,171.16 L157.68,170.08 L157.19,168.94 L156.72,167.73 L156.27,166.46 L155.83,165.14 L155.42,163.76 L155.03,162.32 L154.66,160.83 L154.32,159.30 L154.00,157.73 L153.70,156.11 L153.43,154.45 L153.18,152.76 L152.96,151.04 L152.77,149.29 L152.60,147.52 L152.46,145.73 L152.34,143.92 L152.25,142.10 L152.20,140.26 L152.17,138.42 L152.16,136.58 L152.16,136.58 L152.64,138.13 L152.97,139.72 L153.27,141.29 L153.57,142.84 L153.87,144.36 L154.17,145.83 L154.47,147.28 L154.78,148.68 L154.95,150.25 L155.13,151.79 L155.33,153.30 L155.54,154.78 L155.78,156.22 L156.03,157.62 L156.30,158.98 L156.58,160.29 L156.89,161.55 L157.20,162.76 L157.53,163.92 L157.87,165.02 L158.23,166.07 L158.60,167.05 L158.98,167.98 L159.37,168.83 L159.77,169.63 L160.18,170.35 L160.60,171.01 L161.03,171.60 L161.46,172.11 L161.90,172.55 L162.35,172.92 L162.79,173.22 L163.25,173.44 L163.70,173.59 L164.15,173.66 L164.61,173.66 L165.06,173.58 L165.52,173.43 L165.97,173.20 L166.41,172.89 L166.86,172.52 L167.30,172.07 L167.73,171.55 L168.16,170.95 L168.57,170.29 L168.98,169.56 L169.38,168.76 L169.77,167.89 L170.15,166.97 L170.52,165.98 L170.88,164.93 L171.22,163.82 L171.55,162.66 L171.86,161.44 L172.16,160.17 L172.45,158.86 L172.71,157.50 L172.96,156.09 L173.20,154.65 L173.41,153.17 L173.61,151.65 L173.79,150.11 L173.95,148.53 L174.09,146.93 L174.21,145.31 L174.31,143.67 L174.39,142.02 L174.46,140.35 L174.50,138.67 L174.52,136.99 L174.52,135.31 L174.50,133.63 L174.46,131.96 L174.40,130.29 L174.32,128.63 L174.22,126.99 L174.09,125.37 L173.95,123.77 L173.80,122.20 L173.62,120.65 L173.42,119.13 L173.21,117.65 L172.97,116.20 L172.72,114.80 L172.46,113.43 L172.17,112.12 L171.87,110.85 L171.56,109.63 L171.23,108.46 L170.89,107.36 L170.54,106.30 L170.17,105.31 L169.79,104.38 L169.40,103.51 L169.00,102.71 L168.59,101.98 L168.17,101.31 L167.75,100.72 L167.31,100.19 L166.88,99.74 L166.43,99.36 L165.98,99.05 L165.53,98.82 L165.08,98.66 L164.63,98.58 L164.17,98.58 L163.72,98.65 L163.26,98.79 L162.81,99.01 L162.36,99.30 L161.92,99.67 L161.53,99.93 L161.12,100.27 L160.70,100.68 L160.26,101.17 L159.80,101.72 L159.32,102.35 L158.82,103.03 L158.29,103.78 L157.69,104.48Z" fill="#000"/>
<line x1="151.00" y1="165.20" x2="106.20" y2="165.20" stroke="#000" stroke-width="3.9" stroke-linecap="butt"/>
<path d="M99.60,165.20 L110.60,160.40 L108.18,165.20 L110.60,170.00 Z" fill="#000"/>
<path d="M150.73,225.92 L151.17,225.19 L151.64,224.50 L152.13,223.84 L152.63,223.22 L153.16,222.64 L153.69,222.10 L154.24,221.60 L154.80,221.14 L155.38,220.72 L155.96,220.34 L156.55,220.00 L157.15,219.71 L157.75,219.46 L158.35,219.26 L158.96,219.09 L159.57,218.97 L160.18,218.89 L160.79,218.86 L161.39,218.86 L161.99,218.91 L162.58,219.00 L163.17,219.12 L163.75,219.23 L164.33,219.33 L164.91,219.46 L165.48,219.62 L166.05,219.83 L166.61,220.08 L167.16,220.36 L167.70,220.68 L168.23,221.04 L168.75,221.43 L169.26,221.86 L169.75,222.32 L170.23,222.82 L170.69,223.34 L171.14,223.90 L171.56,224.49 L171.97,225.10 L172.36,225.74 L172.73,226.41 L173.07,227.10 L173.40,227.82 L173.70,228.55 L173.98,229.31 L174.23,230.08 L174.46,230.87 L174.67,231.67 L174.84,232.49 L175.00,233.32 L175.13,234.16 L175.23,235.00 L175.30,235.86 L175.35,236.71 L175.37,237.57 L175.36,238.43 L175.33,239.29 L175.27,240.14 L175.18,240.99 L175.07,241.83 L174.93,242.67 L174.76,243.49 L174.57,244.30 L174.36,245.10 L174.12,245.88 L173.85,246.65 L173.56,247.39 L173.25,248.12 L172.91,248.82 L172.56,249.50 L172.18,250.16 L171.78,250.79 L171.37,251.39 L170.93,251.96 L170.48,252.51 L170.01,253.02 L169.52,253.50 L169.03,253.94 L168.51,254.35 L167.99,254.73 L167.45,255.07 L166.91,255.37 L166.35,255.64 L165.79,255.87 L165.22,256.06 L164.64,256.21 L164.06,256.32 L163.48,256.39 L162.90,256.43 L162.31,256.42 L161.73,256.38 L161.15,256.29 L160.57,256.17 L160.00,256.00 L159.43,255.80 L158.87,255.56 L158.32,255.28 L157.77,254.96 L157.24,254.61 L156.72,254.22 L156.21,253.80 L155.72,253.34 L155.24,252.85 L154.77,252.33 L154.33,251.78 L153.90,251.20 L153.49,250.59 L153.09,249.95 L152.72,249.28 L152.37,248.60 L152.05,247.89 L151.74,247.15 L151.46,246.40 L151.20,245.63 L150.97,244.84 L150.76,244.04 L150.58,243.22 L150.42,242.40 L150.29,241.56 L150.19,240.71 L150.19,240.71 L150.47,241.40 L150.71,242.12 L150.96,242.82 L151.21,243.51 L151.48,244.17 L151.75,244.82 L152.05,245.44 L152.35,246.03 L152.67,246.61 L152.99,247.15 L153.33,247.67 L153.68,248.16 L154.04,248.62 L154.40,249.05 L154.77,249.46 L155.15,249.83 L155.53,250.17 L155.92,250.48 L156.31,250.76 L156.70,251.00 L157.09,251.22 L157.49,251.40 L157.88,251.55 L158.27,251.67 L158.66,251.75 L159.04,251.80 L159.43,251.82 L159.80,251.81 L160.17,251.77 L160.53,251.69 L160.94,251.70 L161.34,251.67 L161.74,251.61 L162.13,251.53 L162.53,251.41 L162.92,251.25 L163.31,251.07 L163.69,250.86 L164.06,250.62 L164.43,250.35 L164.79,250.05 L165.14,249.72 L165.49,249.37 L165.82,248.99 L166.14,248.58 L166.45,248.15 L166.75,247.70 L167.04,247.22 L167.31,246.72 L167.57,246.20 L167.81,245.66 L168.04,245.10 L168.26,244.52 L168.46,243.93 L168.64,243.32 L168.80,242.70 L168.95,242.06 L169.08,241.42 L169.20,240.77 L169.29,240.10 L169.37,239.43 L169.43,238.76 L169.47,238.08 L169.50,237.40 L169.50,236.72 L169.49,236.04 L169.45,235.36 L169.40,234.68 L169.33,234.01 L169.24,233.34 L169.14,232.68 L169.02,232.03 L168.88,231.39 L168.72,230.77 L168.54,230.15 L168.35,229.55 L168.14,228.97 L167.92,228.40 L167.68,227.85 L167.43,227.32 L167.17,226.81 L166.89,226.32 L166.59,225.86 L166.29,225.41 L165.97,225.00 L165.64,224.60 L165.30,224.24 L164.96,223.90 L164.60,223.59 L164.23,223.30 L163.86,223.05 L163.48,222.82 L163.10,222.63 L162.71,222.46 L162.32,222.33 L161.92,222.22 L161.52,222.15 L161.12,222.11 L160.72,222.10 L160.32,222.12 L159.92,222.18 L159.52,222.26 L159.13,222.38 L158.73,222.52 L158.35,222.70 L157.97,222.91 L157.59,223.14 L157.22,223.41 L156.86,223.71 L156.50,224.03 L156.16,224.38 L155.75,224.47 L155.30,224.58 L154.82,224.73 L154.30,224.89 L153.75,225.09 L153.15,225.31 L152.49,225.56 L151.74,225.81 L150.73,225.92Z" fill="#000"/>
<line x1="183.10" y1="241.30" x2="228.10" y2="241.30" stroke="#000" stroke-width="3.9" stroke-linecap="butt"/>
<path d="M234.70,241.30 L223.70,236.50 L226.12,241.30 L223.70,246.10 Z" fill="#000"/>
<text x="61.05" y="445.60" font-size="44" >0.0</text>
<text x="646.45" y="444.60" font-size="44" >0.6</text>
<text x="15.55" y="506.90" font-size="44" >10</text>
<text x="62.75" y="492.20" font-size="26" >-5</text>
<text x="16.55" y="733.60" font-size="44" >10</text>
<text x="63.35" y="718.60" font-size="26" >-8</text>
<text x="62.65" y="762.60" font-size="44" >0.0</text>
<text x="637.65" y="767.30" font-size="44" >0.6</text>
<text x="680.85" y="503.10" font-size="37" >100</text>
<text x="687.40" y="731.90" font-size="37" >0</text>
<text transform="translate(48.00,631.80) rotate(-90)" font-size="44">I [A]</text>
<text transform="translate(689.00,536.00) rotate(90)" font-size="38">PMR [%]</text>
<text x="284.95" y="435.70" font-size="35.8">V</text>
<text x="308.79" y="447.70" font-size="21">G1,3</text>
<text x="364.26" y="435.70" font-size="35.8">(-V</text>
<text x="411.91" y="447.70" font-size="21">G2,4</text>
<text x="457.45" y="435.70" font-size="35.8">) [V]</text>
<text x="283.45" y="761.50" font-size="35.8">V</text>
<text x="307.29" y="773.50" font-size="21">G1,4</text>
<text x="362.76" y="761.50" font-size="35.8">(-V</text>
<text x="410.41" y="773.50" font-size="21">G2,3</text>
<text x="455.95" y="761.50" font-size="35.8">) [V]</text>
<text x="593.85" y="572.60" font-size="52" >(b)</text>
<path d="M214.03,494.80 L214.52,493.75 L215.02,492.77 L215.54,491.85 L216.07,491.01 L216.61,490.24 L217.16,489.54 L217.73,488.92 L218.30,488.37 L218.88,487.90 L219.46,487.51 L220.06,487.20 L220.65,486.96 L221.25,486.81 L221.85,486.73 L222.45,486.74 L223.05,486.83 L223.65,487.00 L224.24,487.24 L224.84,487.57 L225.42,487.97 L226.00,488.46 L226.57,489.02 L227.13,489.65 L227.68,490.36 L228.22,491.15 L228.75,492.00 L229.27,492.93 L229.77,493.92 L230.25,494.98 L230.72,496.10 L231.17,497.29 L231.61,498.53 L232.02,499.83 L232.42,501.19 L232.79,502.59 L233.14,504.05 L233.47,505.55 L233.78,507.09 L234.06,508.67 L234.32,510.29 L234.56,511.94 L234.77,513.62 L234.95,515.33 L235.11,517.06 L235.24,518.81 L235.35,520.58 L235.43,522.36 L235.48,524.14 L235.51,525.94 L235.51,527.73 L235.48,529.53 L235.43,531.31 L235.35,533.09 L235.24,534.86 L235.11,536.61 L234.95,538.34 L234.76,540.04 L234.55,541.72 L234.31,543.38 L234.05,544.99 L233.77,546.57 L233.46,548.11 L233.13,549.61 L232.77,551.06 L232.40,552.47 L232.01,553.82 L231.59,555.12 L231.16,556.36 L230.70,557.54 L230.23,558.66 L229.75,559.72 L229.25,560.71 L228.73,561.63 L228.20,562.48 L227.66,563.26 L227.11,563.97 L226.55,564.61 L225.98,565.16 L225.40,565.64 L224.81,566.04 L224.22,566.37 L223.63,566.61 L223.03,566.78 L222.43,566.86 L221.83,566.86 L221.23,566.79 L220.63,566.63 L220.03,566.39 L219.44,566.08 L218.85,565.68 L218.28,565.21 L217.70,564.66 L217.14,564.03 L216.59,563.33 L216.05,562.56 L215.52,561.71 L215.00,560.80 L214.50,559.81 L214.01,558.76 L213.54,557.65 L213.08,556.47 L212.65,555.23 L212.23,553.94 L211.83,552.59 L211.46,551.19 L211.10,549.75 L210.77,548.25 L210.46,546.71 L210.17,545.14 L209.91,543.52 L209.67,541.88 L209.46,540.20 L209.27,538.49 L209.11,536.77 L208.97,535.02 L208.86,533.25 L208.78,531.48 L208.72,529.69 L208.69,527.90 L208.69,526.10 L208.69,526.10 L209.15,527.61 L209.46,529.16 L209.76,530.69 L210.04,532.20 L210.33,533.68 L210.62,535.12 L210.92,536.53 L211.22,537.89 L211.38,539.42 L211.55,540.93 L211.74,542.40 L211.95,543.84 L212.18,545.25 L212.42,546.61 L212.68,547.94 L212.96,549.22 L213.25,550.45 L213.55,551.63 L213.87,552.76 L214.20,553.83 L214.55,554.85 L214.90,555.81 L215.27,556.71 L215.65,557.55 L216.03,558.32 L216.43,559.03 L216.83,559.67 L217.25,560.24 L217.66,560.74 L218.09,561.17 L218.52,561.53 L218.95,561.82 L219.38,562.04 L219.82,562.18 L220.26,562.25 L220.70,562.25 L221.14,562.17 L221.58,562.02 L222.01,561.80 L222.44,561.50 L222.87,561.14 L223.29,560.70 L223.71,560.19 L224.12,559.61 L224.53,558.96 L224.92,558.25 L225.31,557.47 L225.68,556.63 L226.05,555.72 L226.41,554.76 L226.75,553.74 L227.08,552.66 L227.40,551.52 L227.70,550.34 L227.99,549.10 L228.26,547.82 L228.52,546.49 L228.76,545.12 L228.99,543.71 L229.20,542.27 L229.39,540.79 L229.56,539.29 L229.71,537.75 L229.85,536.19 L229.97,534.61 L230.06,533.01 L230.14,531.40 L230.20,529.77 L230.24,528.14 L230.26,526.50 L230.26,524.86 L230.24,523.22 L230.20,521.59 L230.14,519.96 L230.07,518.35 L229.97,516.75 L229.85,515.17 L229.72,513.61 L229.56,512.07 L229.39,510.56 L229.20,509.09 L229.00,507.64 L228.77,506.23 L228.53,504.86 L228.27,503.53 L228.00,502.25 L227.71,501.01 L227.41,499.82 L227.09,498.69 L226.76,497.60 L226.42,496.58 L226.06,495.61 L225.70,494.70 L225.32,493.86 L224.94,493.08 L224.54,492.36 L224.14,491.71 L223.73,491.13 L223.31,490.62 L222.89,490.18 L222.46,489.81 L222.03,489.51 L221.59,489.28 L221.15,489.13 L220.72,489.05 L220.28,489.04 L219.84,489.11 L219.40,489.25 L218.97,489.47 L218.53,489.75 L218.10,490.11 L217.73,490.37 L217.34,490.70 L216.93,491.10 L216.50,491.57 L216.06,492.11 L215.59,492.72 L215.11,493.39 L214.60,494.11 L214.03,494.80Z" fill="#000"/>
<line x1="205.50" y1="544.40" x2="103.80" y2="544.40" stroke="#000" stroke-width="3.9" stroke-linecap="butt"/>
<path d="M97.20,544.40 L108.20,539.60 L105.78,544.40 L108.20,549.20 Z" fill="#000"/>
<path d="M183.02,626.72 L183.45,626.02 L183.90,625.36 L184.36,624.74 L184.84,624.15 L185.33,623.60 L185.84,623.08 L186.36,622.61 L186.90,622.17 L187.44,621.77 L188.00,621.41 L188.56,621.09 L189.12,620.82 L189.70,620.58 L190.27,620.38 L190.85,620.23 L191.43,620.11 L192.01,620.04 L192.58,620.00 L193.16,620.01 L193.72,620.05 L194.29,620.14 L194.85,620.26 L195.40,620.36 L195.95,620.45 L196.50,620.57 L197.04,620.73 L197.58,620.93 L198.11,621.16 L198.64,621.43 L199.15,621.74 L199.66,622.08 L200.15,622.45 L200.63,622.86 L201.10,623.30 L201.55,623.77 L201.99,624.27 L202.41,624.79 L202.82,625.35 L203.21,625.94 L203.58,626.54 L203.92,627.18 L204.25,627.84 L204.56,628.51 L204.85,629.21 L205.11,629.93 L205.35,630.67 L205.57,631.42 L205.77,632.18 L205.94,632.96 L206.08,633.74 L206.20,634.54 L206.30,635.34 L206.37,636.15 L206.42,636.97 L206.44,637.78 L206.43,638.60 L206.40,639.41 L206.34,640.22 L206.26,641.03 L206.15,641.83 L206.02,642.62 L205.86,643.41 L205.68,644.18 L205.47,644.93 L205.25,645.68 L204.99,646.40 L204.72,647.11 L204.42,647.80 L204.10,648.47 L203.77,649.12 L203.41,649.74 L203.03,650.34 L202.63,650.91 L202.22,651.45 L201.79,651.97 L201.34,652.46 L200.88,652.91 L200.41,653.34 L199.92,653.73 L199.42,654.08 L198.91,654.41 L198.39,654.70 L197.87,654.95 L197.33,655.17 L196.79,655.35 L196.24,655.49 L195.69,655.60 L195.14,655.66 L194.59,655.70 L194.03,655.69 L193.48,655.65 L192.93,655.57 L192.38,655.45 L191.83,655.29 L191.29,655.10 L190.76,654.87 L190.24,654.61 L189.72,654.31 L189.21,653.97 L188.72,653.60 L188.24,653.20 L187.77,652.77 L187.31,652.30 L186.87,651.81 L186.44,651.28 L186.04,650.73 L185.65,650.15 L185.27,649.54 L184.92,648.91 L184.59,648.26 L184.28,647.58 L183.99,646.88 L183.72,646.17 L183.48,645.44 L183.26,644.69 L183.06,643.93 L182.88,643.15 L182.74,642.37 L182.61,641.57 L182.51,640.77 L182.51,640.77 L182.79,641.42 L183.01,642.10 L183.24,642.77 L183.49,643.42 L183.74,644.05 L184.00,644.66 L184.28,645.25 L184.57,645.82 L184.87,646.36 L185.18,646.88 L185.50,647.38 L185.83,647.84 L186.17,648.28 L186.51,648.69 L186.87,649.07 L187.23,649.43 L187.59,649.75 L187.96,650.05 L188.33,650.31 L188.70,650.54 L189.07,650.75 L189.45,650.92 L189.82,651.06 L190.19,651.17 L190.56,651.25 L190.93,651.30 L191.29,651.32 L191.65,651.31 L192.00,651.27 L192.34,651.20 L192.72,651.20 L193.10,651.18 L193.48,651.12 L193.86,651.04 L194.24,650.92 L194.61,650.78 L194.98,650.61 L195.34,650.41 L195.69,650.18 L196.04,649.92 L196.39,649.64 L196.72,649.33 L197.05,648.99 L197.36,648.63 L197.67,648.24 L197.96,647.83 L198.25,647.40 L198.52,646.95 L198.78,646.47 L199.03,645.98 L199.26,645.46 L199.48,644.93 L199.68,644.38 L199.87,643.82 L200.04,643.24 L200.20,642.65 L200.34,642.05 L200.47,641.44 L200.57,640.82 L200.66,640.19 L200.74,639.55 L200.79,638.91 L200.83,638.27 L200.86,637.62 L200.86,636.97 L200.85,636.32 L200.81,635.68 L200.77,635.03 L200.70,634.40 L200.62,633.76 L200.52,633.14 L200.40,632.52 L200.27,631.91 L200.12,631.32 L199.95,630.73 L199.77,630.16 L199.57,629.61 L199.36,629.07 L199.14,628.55 L198.90,628.04 L198.64,627.56 L198.38,627.10 L198.10,626.65 L197.81,626.23 L197.51,625.84 L197.19,625.46 L196.87,625.12 L196.54,624.79 L196.20,624.50 L195.86,624.23 L195.50,623.98 L195.14,623.77 L194.78,623.58 L194.41,623.43 L194.04,623.30 L193.66,623.20 L193.28,623.13 L192.90,623.09 L192.52,623.09 L192.14,623.11 L191.76,623.16 L191.38,623.24 L191.00,623.35 L190.63,623.49 L190.26,623.66 L189.90,623.85 L189.54,624.08 L189.19,624.33 L188.85,624.61 L188.51,624.92 L188.19,625.25 L187.79,625.34 L187.37,625.45 L186.91,625.58 L186.42,625.74 L185.90,625.92 L185.33,626.14 L184.70,626.37 L183.99,626.61 L183.02,626.72Z" fill="#000"/>
<line x1="211.50" y1="638.80" x2="255.80" y2="638.80" stroke="#000" stroke-width="3.9" stroke-linecap="butt"/>
<path d="M262.40,638.80 L251.40,634.00 L253.82,638.80 L251.40,643.60 Z" fill="#000"/>
<text x="57.15" y="855.70" font-size="44" >0.0</text>
<text x="642.15" y="853.80" font-size="44" letter-spacing="-0.9">1.0</text>
<text x="31.35" y="909.00" font-size="44" letter-spacing="-1.2">14</text>
<text x="46.65" y="1136.30" font-size="44" >0</text>
<text x="56.55" y="1169.00" font-size="44" >0.0</text>
<text x="638.45" y="1170.60" font-size="44" letter-spacing="-0.9">1.0</text>
<text x="676.35" y="907.00" font-size="37" >100</text>
<text x="688.70" y="1141.00" font-size="37.5" >0</text>
<text transform="translate(62.30,1047.20) rotate(-90)" font-size="44">I [µA]</text>
<text transform="translate(689.00,944.70) rotate(90)" font-size="38">PMR [%]</text>
<text x="222.75" y="839.60" font-size="35.2" >V</text>
<text x="246.40" y="852.90" font-size="21.0" >TG1,BG2</text>
<text x="344.25" y="839.60" font-size="35.2" >(</text>
<text x="355.70" y="839.60" font-size="35.2" >-</text>
<text x="369.55" y="839.60" font-size="35.2" >V</text>
<text x="391.85" y="852.90" font-size="21.0" >BG1,TG2</text>
<text x="483.75" y="839.60" font-size="35.2" >)</text>
<text x="503.80" y="839.60" font-size="35.2" >[</text>
<text x="513.35" y="839.60" font-size="35.2" >V</text>
<text x="539.55" y="839.60" font-size="35.2" >]</text>
<text x="221.55" y="1170.20" font-size="35.2" >V</text>
<text x="245.90" y="1183.50" font-size="21.0" >TG1,TG2</text>
<text x="342.45" y="1170.20" font-size="35.2" >(</text>
<text x="354.10" y="1170.20" font-size="35.2" >-</text>
<text x="367.65" y="1170.20" font-size="35.2" >V</text>
<text x="390.05" y="1183.50" font-size="21.0" >BG1,BG2</text>
<text x="482.65" y="1170.20" font-size="35.2" >)</text>
<text x="502.70" y="1170.20" font-size="35.2" >[</text>
<text x="512.15" y="1170.20" font-size="35.2" >V</text>
<text x="538.35" y="1170.20" font-size="35.2" >]</text>
<text x="595.75" y="992.60" font-size="51" letter-spacing="1.0">(c)</text>
<path d="M168.64,935.14 L169.13,934.35 L169.63,933.61 L170.15,932.93 L170.68,932.29 L171.23,931.71 L171.79,931.19 L172.35,930.72 L172.93,930.31 L173.51,929.96 L174.10,929.66 L174.70,929.43 L175.29,929.25 L175.90,929.13 L176.50,929.08 L177.10,929.08 L177.71,929.15 L178.31,929.28 L178.91,929.46 L179.50,929.71 L180.09,930.01 L180.67,930.37 L181.24,930.80 L181.81,931.27 L182.36,931.81 L182.91,932.40 L183.44,933.04 L183.95,933.74 L184.46,934.48 L184.95,935.28 L185.42,936.12 L185.87,937.01 L186.31,937.95 L186.72,938.92 L187.12,939.94 L187.49,941.00 L187.85,942.09 L188.18,943.22 L188.49,944.38 L188.77,945.57 L189.04,946.79 L189.27,948.03 L189.48,949.29 L189.67,950.58 L189.83,951.88 L189.96,953.19 L190.07,954.52 L190.15,955.86 L190.20,957.20 L190.23,958.55 L190.23,959.90 L190.20,961.25 L190.15,962.59 L190.07,963.93 L189.96,965.26 L189.82,966.57 L189.66,967.87 L189.48,969.16 L189.26,970.42 L189.03,971.66 L188.76,972.88 L188.48,974.07 L188.17,975.22 L187.83,976.35 L187.48,977.44 L187.10,978.50 L186.71,979.51 L186.29,980.49 L185.85,981.42 L185.40,982.31 L184.93,983.15 L184.44,983.95 L183.93,984.69 L183.42,985.39 L182.89,986.03 L182.34,986.61 L181.79,987.15 L181.22,987.62 L180.65,988.04 L180.07,988.40 L179.48,988.70 L178.88,988.95 L178.28,989.13 L177.68,989.25 L177.08,989.32 L176.48,989.32 L175.87,989.26 L175.27,989.14 L174.67,988.97 L174.08,988.73 L173.49,988.43 L172.91,988.08 L172.33,987.66 L171.76,987.19 L171.21,986.66 L170.66,986.08 L170.13,985.45 L169.61,984.76 L169.11,984.02 L168.62,983.23 L168.14,982.39 L167.69,981.51 L167.25,980.58 L166.83,979.60 L166.43,978.59 L166.05,977.54 L165.70,976.45 L165.36,975.33 L165.05,974.17 L164.76,972.99 L164.50,971.77 L164.26,970.53 L164.04,969.27 L163.85,967.99 L163.69,966.69 L163.55,965.38 L163.44,964.05 L163.36,962.71 L163.30,961.37 L163.27,960.02 L163.27,958.67 L163.27,958.67 L163.73,959.81 L164.05,960.97 L164.34,962.13 L164.63,963.26 L164.92,964.37 L165.22,965.46 L165.51,966.51 L165.81,967.54 L165.97,968.69 L166.15,969.82 L166.34,970.93 L166.55,972.01 L166.78,973.07 L167.02,974.10 L167.28,975.09 L167.56,976.05 L167.85,976.98 L168.16,977.87 L168.48,978.71 L168.81,979.52 L169.16,980.29 L169.51,981.01 L169.88,981.69 L170.26,982.31 L170.65,982.90 L171.05,983.43 L171.46,983.91 L171.87,984.34 L172.29,984.72 L172.72,985.04 L173.15,985.31 L173.58,985.53 L174.02,985.69 L174.46,985.80 L174.90,985.85 L175.34,985.85 L175.78,985.79 L176.22,985.68 L176.66,985.51 L177.09,985.29 L177.52,985.01 L177.95,984.68 L178.37,984.30 L178.78,983.87 L179.19,983.38 L179.59,982.84 L179.97,982.26 L180.35,981.63 L180.72,980.95 L181.08,980.22 L181.42,979.45 L181.75,978.64 L182.07,977.79 L182.38,976.89 L182.67,975.97 L182.94,975.00 L183.20,974.00 L183.45,972.97 L183.67,971.92 L183.88,970.83 L184.07,969.72 L184.25,968.59 L184.40,967.43 L184.54,966.26 L184.66,965.07 L184.75,963.87 L184.83,962.66 L184.89,961.43 L184.93,960.21 L184.95,958.98 L184.95,957.74 L184.93,956.51 L184.90,955.28 L184.84,954.06 L184.76,952.85 L184.66,951.65 L184.54,950.46 L184.41,949.28 L184.25,948.13 L184.08,946.99 L183.89,945.88 L183.68,944.80 L183.46,943.74 L183.21,942.71 L182.95,941.71 L182.68,940.74 L182.39,939.81 L182.09,938.92 L181.77,938.06 L181.44,937.25 L181.09,936.48 L180.73,935.75 L180.37,935.07 L179.99,934.43 L179.60,933.85 L179.20,933.31 L178.80,932.82 L178.39,932.38 L177.97,932.00 L177.54,931.67 L177.11,931.39 L176.68,931.16 L176.24,931.00 L175.80,930.88 L175.36,930.82 L174.92,930.82 L174.48,930.87 L174.04,930.97 L173.60,931.13 L173.16,931.35 L172.73,931.62 L172.36,931.81 L171.96,932.06 L171.55,932.36 L171.12,932.71 L170.68,933.12 L170.21,933.58 L169.72,934.08 L169.21,934.63 L168.64,935.14Z" fill="#000"/>
<line x1="157.30" y1="972.40" x2="113.00" y2="972.40" stroke="#000" stroke-width="3.9" stroke-linecap="butt"/>
<path d="M106.40,972.40 L117.40,967.60 L114.98,972.40 L117.40,977.20 Z" fill="#000"/>
<path d="M584.68,916.96 L585.05,916.36 L585.43,915.79 L585.83,915.25 L586.25,914.75 L586.67,914.27 L587.11,913.82 L587.56,913.41 L588.02,913.03 L588.49,912.69 L588.97,912.38 L589.46,912.11 L589.95,911.87 L590.44,911.66 L590.94,911.49 L591.43,911.36 L591.93,911.26 L592.43,911.20 L592.93,911.17 L593.43,911.17 L593.92,911.21 L594.40,911.28 L594.88,911.39 L595.36,911.48 L595.84,911.55 L596.31,911.66 L596.78,911.80 L597.25,911.97 L597.70,912.17 L598.16,912.40 L598.60,912.66 L599.04,912.96 L599.46,913.28 L599.88,913.63 L600.28,914.01 L600.67,914.41 L601.05,914.84 L601.42,915.30 L601.77,915.78 L602.10,916.29 L602.42,916.81 L602.72,917.36 L603.01,917.93 L603.27,918.51 L603.52,919.12 L603.75,919.73 L603.96,920.37 L604.14,921.02 L604.31,921.68 L604.46,922.35 L604.58,923.03 L604.69,923.71 L604.77,924.41 L604.83,925.11 L604.87,925.81 L604.89,926.51 L604.88,927.22 L604.86,927.92 L604.81,928.62 L604.74,929.32 L604.64,930.01 L604.53,930.69 L604.39,931.37 L604.24,932.03 L604.06,932.69 L603.86,933.33 L603.64,933.95 L603.41,934.57 L603.15,935.16 L602.88,935.74 L602.58,936.30 L602.27,936.83 L601.95,937.35 L601.61,937.84 L601.25,938.31 L600.88,938.76 L600.49,939.18 L600.10,939.57 L599.69,939.94 L599.27,940.27 L598.84,940.58 L598.40,940.86 L597.95,941.11 L597.49,941.33 L597.03,941.52 L596.56,941.67 L596.09,941.80 L595.62,941.89 L595.14,941.95 L594.66,941.97 L594.18,941.97 L593.70,941.93 L593.23,941.86 L592.75,941.76 L592.28,941.62 L591.82,941.46 L591.36,941.26 L590.91,941.03 L590.46,940.77 L590.02,940.49 L589.60,940.17 L589.18,939.82 L588.77,939.45 L588.38,939.04 L588.00,938.62 L587.63,938.16 L587.28,937.69 L586.94,937.19 L586.62,936.66 L586.32,936.12 L586.03,935.55 L585.76,934.97 L585.51,934.37 L585.28,933.75 L585.07,933.12 L584.88,932.47 L584.71,931.82 L584.56,931.15 L584.43,930.47 L584.32,929.78 L584.24,929.09 L584.24,929.09 L584.48,929.66 L584.67,930.24 L584.87,930.82 L585.08,931.38 L585.30,931.92 L585.53,932.45 L585.76,932.96 L586.01,933.45 L586.27,933.92 L586.54,934.37 L586.82,934.79 L587.10,935.19 L587.39,935.57 L587.69,935.93 L588.00,936.26 L588.31,936.56 L588.62,936.84 L588.94,937.10 L589.26,937.33 L589.58,937.53 L589.90,937.70 L590.22,937.85 L590.55,937.97 L590.87,938.07 L591.19,938.14 L591.50,938.18 L591.81,938.20 L592.12,938.19 L592.43,938.15 L592.72,938.09 L593.05,938.10 L593.38,938.07 L593.71,938.03 L594.04,937.95 L594.36,937.86 L594.68,937.73 L595.00,937.58 L595.31,937.41 L595.62,937.21 L595.92,936.99 L596.21,936.75 L596.50,936.48 L596.78,936.19 L597.06,935.87 L597.32,935.54 L597.58,935.19 L597.82,934.81 L598.06,934.42 L598.28,934.01 L598.49,933.59 L598.69,933.14 L598.88,932.68 L599.06,932.21 L599.22,931.72 L599.37,931.23 L599.51,930.72 L599.63,930.20 L599.74,929.67 L599.83,929.13 L599.91,928.59 L599.97,928.04 L600.02,927.49 L600.05,926.93 L600.07,926.37 L600.08,925.81 L600.06,925.25 L600.04,924.70 L600.00,924.14 L599.94,923.59 L599.87,923.04 L599.78,922.50 L599.68,921.97 L599.56,921.45 L599.43,920.93 L599.29,920.43 L599.13,919.94 L598.96,919.46 L598.78,918.99 L598.59,918.54 L598.38,918.11 L598.16,917.69 L597.93,917.29 L597.69,916.91 L597.44,916.54 L597.18,916.20 L596.91,915.88 L596.63,915.58 L596.35,915.30 L596.06,915.04 L595.76,914.81 L595.45,914.60 L595.14,914.42 L594.83,914.26 L594.51,914.12 L594.19,914.01 L593.86,913.93 L593.53,913.87 L593.21,913.83 L592.88,913.83 L592.55,913.84 L592.22,913.89 L591.89,913.96 L591.57,914.05 L591.25,914.17 L590.93,914.32 L590.62,914.49 L590.31,914.68 L590.01,914.90 L589.71,915.14 L589.42,915.41 L589.14,915.70 L588.80,915.77 L588.43,915.86 L588.04,915.98 L587.62,916.12 L587.16,916.28 L586.67,916.46 L586.13,916.66 L585.51,916.87 L584.68,916.96Z" fill="#000"/>
<line x1="608.90" y1="934.30" x2="655.20" y2="934.30" stroke="#000" stroke-width="3.9" stroke-linecap="butt"/>
<path d="M661.80,934.30 L650.80,929.50 L653.22,934.30 L650.80,939.10 Z" fill="#000"/>
</svg>
</body></html>
